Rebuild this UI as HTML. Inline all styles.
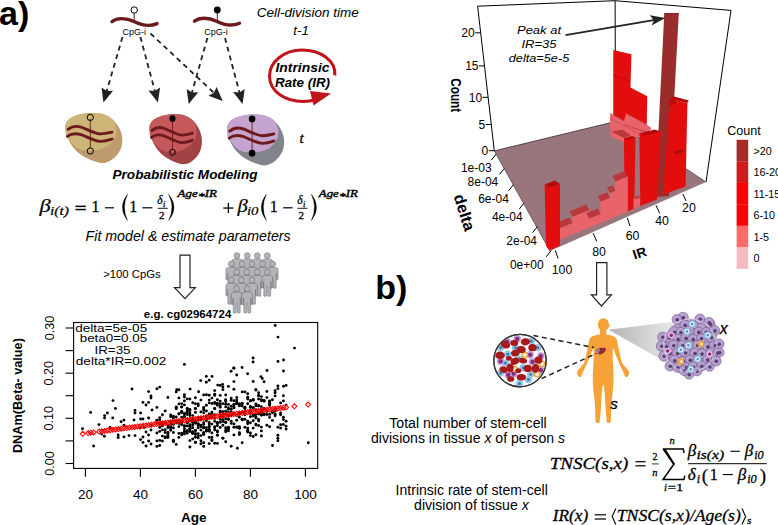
<!DOCTYPE html>
<html><head><meta charset="utf-8"><style>
html,body{margin:0;padding:0;background:#fff;width:778px;height:525px;overflow:hidden;}
svg{display:block;}

</style></head><body>
<svg width="778" height="525" viewBox="0 0 778 525">
<rect width="778" height="525" fill="#fff"/>
<text x="-1" y="25" font-size="34" font-family="Liberation Sans, sans-serif" font-weight="bold" text-anchor="start" fill="#000" >a)</text>
<path d="M112,21.6 C117,17.6 126,17.6 134,21.6 S150,26.6 157,23.6" fill="none" stroke="#6d1a1e" stroke-width="3.4" stroke-linecap="round"/>
<line x1="134.2" y1="13" x2="134.2" y2="21.5" stroke="#6d1a1e" stroke-width="1"/>
<circle cx="134.2" cy="10" r="3.2" fill="#fff" stroke="#000" stroke-width="1"/>
<path d="M194.5,21.2 C199.5,17.2 208.5,17.2 216.5,21.2 S232.5,26.2 239.5,23.2" fill="none" stroke="#6d1a1e" stroke-width="3.4" stroke-linecap="round"/>
<line x1="217.3" y1="13" x2="217.3" y2="21.5" stroke="#6d1a1e" stroke-width="1"/>
<circle cx="217.3" cy="10" r="3.4" fill="#000"/>
<text x="122.5" y="34.6" font-size="8.8" font-family="Liberation Sans, sans-serif" text-anchor="start" fill="#000" textLength="23.5" lengthAdjust="spacingAndGlyphs" >CpG-i</text>
<text x="204.2" y="34.6" font-size="8.8" font-family="Liberation Sans, sans-serif" text-anchor="start" fill="#000" textLength="23.5" lengthAdjust="spacingAndGlyphs" >CpG-i</text>
<line x1="122.5" y1="37" x2="106.5" y2="91.9" stroke="#222" stroke-width="1.8" stroke-dasharray="5,4"/>
<path d="M103.4,102.5 L101.6,87.4 L106.8,90.9 L113.1,90.7 Z" fill="#222"/>
<line x1="140.4" y1="37" x2="155.1" y2="91.9" stroke="#222" stroke-width="1.8" stroke-dasharray="5,4"/>
<path d="M157.9,102.5 L148.5,90.5 L154.8,90.9 L160.1,87.4 Z" fill="#222"/>
<line x1="150.5" y1="33.5" x2="214.7" y2="93.5" stroke="#222" stroke-width="1.8" stroke-dasharray="5,4"/>
<path d="M222.7,101 L208.4,95.8 L213.9,92.8 L216.6,87.1 Z" fill="#222"/>
<line x1="207.4" y1="38" x2="191.7" y2="93.4" stroke="#222" stroke-width="1.8" stroke-dasharray="5,4"/>
<path d="M188.7,104 L186.7,88.9 L192.0,92.4 L198.3,92.2 Z" fill="#222"/>
<line x1="225" y1="38" x2="239.7" y2="93.4" stroke="#222" stroke-width="1.8" stroke-dasharray="5,4"/>
<path d="M242.5,104 L233.1,92.0 L239.4,92.4 L244.7,88.9 Z" fill="#222"/>
<text x="256.8" y="16.7" font-size="13" font-family="Liberation Sans, sans-serif" font-style="italic" text-anchor="start" fill="#000" textLength="102" lengthAdjust="spacingAndGlyphs" >Cell-division time</text>
<text x="293.3" y="34.7" font-size="13" font-family="Liberation Sans, sans-serif" font-style="italic" text-anchor="start" fill="#000" textLength="15.5" lengthAdjust="spacingAndGlyphs" >t-1</text>
<path d="M334.9,75.3 C336,60 320,50 302,50 C284,50 269.5,62 269.5,76 C269.5,92 286,101.5 303,101.5 C309,101.5 313,100.5 316,99.5" fill="none" stroke="#c0141c" stroke-width="3"/>
<path d="M310,91 L331,93.5 L313.5,105.5 Z" fill="#c0141c"/>
<text x="275.5" y="72.2" font-size="13.3" font-family="Liberation Sans, sans-serif" font-weight="bold" font-style="italic" text-anchor="start" fill="#000" textLength="54" lengthAdjust="spacingAndGlyphs" >Intrinsic</text>
<text x="275" y="87.1" font-size="13.3" font-family="Liberation Sans, sans-serif" font-weight="bold" font-style="italic" text-anchor="start" fill="#000" textLength="55" lengthAdjust="spacingAndGlyphs" >Rate (IR)</text>
<g transform="translate(65,113.1) scale(1.0,1.0)"><path d="M0.60,16.60 C0.40,14.50 -0.08,12.80 0.70,10.90 C1.48,9.00 2.82,6.82 5.30,5.20 C7.78,3.58 11.98,2.07 15.60,1.20 C19.22,0.33 23.18,0.00 27.00,0.00 C30.82,0.00 35.07,0.15 38.50,1.20 C41.93,2.25 44.93,3.92 47.60,6.30 C50.27,8.68 52.88,12.25 54.50,15.50 C56.12,18.75 57.12,22.37 57.30,25.80 C57.48,29.23 57.02,32.87 55.60,36.10 C54.18,39.33 51.47,42.92 48.80,45.20 C46.13,47.48 42.85,49.32 39.60,49.80 C36.35,50.28 32.92,49.25 29.30,48.10 C25.68,46.95 21.33,45.10 17.90,42.90 C14.47,40.70 11.37,38.13 8.70,34.90 C6.03,31.67 3.25,26.55 1.90,23.50 C0.55,20.45 0.80,18.70 0.60,16.60 Z" fill="#bf9a6c"/><path d="M47.60,6.30 C45.60,4.48 41.93,2.25 38.50,1.20 C35.07,0.15 30.82,0.00 27.00,0.00 C23.18,0.00 19.22,0.33 15.60,1.20 C11.98,2.07 7.78,3.58 5.30,5.20 C2.82,6.82 1.48,9.00 0.70,10.90 C-0.08,12.80 0.40,14.50 0.60,16.60 C0.80,18.70 -0.03,20.45 1.90,23.50 C3.83,26.55 8.58,32.60 12.20,34.90 C15.82,37.20 19.80,37.10 23.60,37.30 C27.40,37.50 31.57,37.07 35.00,36.10 C38.43,35.13 41.72,33.42 44.20,31.50 C46.68,29.58 48.67,26.88 49.90,24.60 C51.13,22.32 51.50,19.88 51.60,17.80 C51.70,15.72 51.17,14.02 50.50,12.10 C49.83,10.18 49.60,8.12 47.60,6.30 Z" fill="#cdb578"/><path d="M3,16.2 C7,13 11,12.5 16,14 S30,21 36,20.8 S44,19.5 47,19" fill="none" stroke="#6d1a1e" stroke-width="2.9" stroke-linecap="round"/><path d="M2.4,23.2 C6,20.5 11,20 16,21.5 S30,28.5 36,28.3 S44,27 47,25.9" fill="none" stroke="#6d1a1e" stroke-width="2.9" stroke-linecap="round"/><line x1="25.3" y1="6" x2="25.3" y2="35" stroke="#6d1a1e" stroke-width="0.9"/><circle cx="25.3" cy="4.3" r="3.1" fill="none" stroke="#000" stroke-width="1"/><circle cx="25.3" cy="37.9" r="3.1" fill="none" stroke="#000" stroke-width="1"/></g>
<g transform="translate(149.2,114.3) scale(0.92,1.0)"><path d="M0.60,16.60 C0.40,14.50 -0.08,12.80 0.70,10.90 C1.48,9.00 2.82,6.82 5.30,5.20 C7.78,3.58 11.98,2.07 15.60,1.20 C19.22,0.33 23.18,0.00 27.00,0.00 C30.82,0.00 35.07,0.15 38.50,1.20 C41.93,2.25 44.93,3.92 47.60,6.30 C50.27,8.68 52.88,12.25 54.50,15.50 C56.12,18.75 57.12,22.37 57.30,25.80 C57.48,29.23 57.02,32.87 55.60,36.10 C54.18,39.33 51.47,42.92 48.80,45.20 C46.13,47.48 42.85,49.32 39.60,49.80 C36.35,50.28 32.92,49.25 29.30,48.10 C25.68,46.95 21.33,45.10 17.90,42.90 C14.47,40.70 11.37,38.13 8.70,34.90 C6.03,31.67 3.25,26.55 1.90,23.50 C0.55,20.45 0.80,18.70 0.60,16.60 Z" fill="#a14344"/><path d="M47.60,6.30 C45.60,4.48 41.93,2.25 38.50,1.20 C35.07,0.15 30.82,0.00 27.00,0.00 C23.18,0.00 19.22,0.33 15.60,1.20 C11.98,2.07 7.78,3.58 5.30,5.20 C2.82,6.82 1.48,9.00 0.70,10.90 C-0.08,12.80 0.40,14.50 0.60,16.60 C0.80,18.70 -0.03,20.45 1.90,23.50 C3.83,26.55 8.58,32.60 12.20,34.90 C15.82,37.20 19.80,37.10 23.60,37.30 C27.40,37.50 31.57,37.07 35.00,36.10 C38.43,35.13 41.72,33.42 44.20,31.50 C46.68,29.58 48.67,26.88 49.90,24.60 C51.13,22.32 51.50,19.88 51.60,17.80 C51.70,15.72 51.17,14.02 50.50,12.10 C49.83,10.18 49.60,8.12 47.60,6.30 Z" fill="#c4585a"/><path d="M3,16.2 C7,13 11,12.5 16,14 S30,21 36,20.8 S44,19.5 47,19" fill="none" stroke="#6d1a1e" stroke-width="2.9" stroke-linecap="round"/><path d="M2.4,23.2 C6,20.5 11,20 16,21.5 S30,28.5 36,28.3 S44,27 47,25.9" fill="none" stroke="#6d1a1e" stroke-width="2.9" stroke-linecap="round"/><line x1="25.3" y1="6" x2="25.3" y2="35" stroke="#6d1a1e" stroke-width="0.9"/><circle cx="25.3" cy="4.3" r="3.3" fill="#000"/><circle cx="25.3" cy="37.9" r="3.1" fill="none" stroke="#000" stroke-width="1"/></g>
<g transform="translate(226.8,114.5) scale(1.0,1.02)"><path d="M0.60,16.60 C0.40,14.50 -0.08,12.80 0.70,10.90 C1.48,9.00 2.82,6.82 5.30,5.20 C7.78,3.58 11.98,2.07 15.60,1.20 C19.22,0.33 23.18,0.00 27.00,0.00 C30.82,0.00 35.07,0.15 38.50,1.20 C41.93,2.25 44.93,3.92 47.60,6.30 C50.27,8.68 52.88,12.25 54.50,15.50 C56.12,18.75 57.12,22.37 57.30,25.80 C57.48,29.23 57.02,32.87 55.60,36.10 C54.18,39.33 51.47,42.92 48.80,45.20 C46.13,47.48 42.85,49.32 39.60,49.80 C36.35,50.28 32.92,49.25 29.30,48.10 C25.68,46.95 21.33,45.10 17.90,42.90 C14.47,40.70 11.37,38.13 8.70,34.90 C6.03,31.67 3.25,26.55 1.90,23.50 C0.55,20.45 0.80,18.70 0.60,16.60 Z" fill="#82848c"/><path d="M47.60,6.30 C45.60,4.48 41.93,2.25 38.50,1.20 C35.07,0.15 30.82,0.00 27.00,0.00 C23.18,0.00 19.22,0.33 15.60,1.20 C11.98,2.07 7.78,3.58 5.30,5.20 C2.82,6.82 1.48,9.00 0.70,10.90 C-0.08,12.80 0.40,14.50 0.60,16.60 C0.80,18.70 -0.03,20.45 1.90,23.50 C3.83,26.55 8.58,32.60 12.20,34.90 C15.82,37.20 19.80,37.10 23.60,37.30 C27.40,37.50 31.57,37.07 35.00,36.10 C38.43,35.13 41.72,33.42 44.20,31.50 C46.68,29.58 48.67,26.88 49.90,24.60 C51.13,22.32 51.50,19.88 51.60,17.80 C51.70,15.72 51.17,14.02 50.50,12.10 C49.83,10.18 49.60,8.12 47.60,6.30 Z" fill="#c4a4ce"/><path d="M3,16.2 C7,13 11,12.5 16,14 S30,21 36,20.8 S44,19.5 47,19" fill="none" stroke="#6d1a1e" stroke-width="2.9" stroke-linecap="round"/><path d="M2.4,23.2 C6,20.5 11,20 16,21.5 S30,28.5 36,28.3 S44,27 47,25.9" fill="none" stroke="#6d1a1e" stroke-width="2.9" stroke-linecap="round"/><line x1="25.3" y1="6" x2="25.3" y2="35" stroke="#6d1a1e" stroke-width="0.9"/><circle cx="25.3" cy="4.3" r="3.3" fill="#000"/><circle cx="25.3" cy="37.9" r="3.3" fill="#000"/></g>
<text x="299.5" y="143" font-size="15" font-family="Liberation Serif, serif" font-style="italic" stroke="#000" stroke-width="0.28" text-anchor="start" fill="#000" >t</text>
<text x="112.5" y="178.5" font-size="13.3" font-family="Liberation Sans, sans-serif" font-weight="bold" font-style="italic" text-anchor="start" fill="#000" textLength="145" lengthAdjust="spacingAndGlyphs" >Probabilistic Modeling</text>
<text x="39.6" y="211.5" font-size="19" font-family="Liberation Serif, serif" font-style="italic" stroke="#000" stroke-width="0.2" text-anchor="start" fill="#000" textLength="11.2" lengthAdjust="spacingAndGlyphs" >β</text>
<text x="50" y="215.1" font-size="11.5" font-family="Liberation Serif, serif" font-style="italic" stroke="#000" stroke-width="0.2" text-anchor="start" fill="#000" textLength="19" lengthAdjust="spacingAndGlyphs">i(t)</text>
<rect x="75.5" y="205.6" width="10.3" height="1.5" fill="#000"/><rect x="75.5" y="208.8" width="10.3" height="1.5" fill="#000"/>
<text x="91.5" y="211.5" font-size="16" font-family="Liberation Serif, serif" stroke="#000" stroke-width="0.28" text-anchor="start" fill="#000" >1</text>
<line x1="105" y1="207.8" x2="114" y2="207.8" stroke="#000" stroke-width="1.2"/>
<path d="M127.5,194.3 Q117.30,207.40 127.5,220.5 Q121.30,207.40 127.5,194.3 Z" fill="#000" stroke="#000" stroke-width="0.35"/>
<text x="129.2" y="211.5" font-size="16" font-family="Liberation Serif, serif" stroke="#000" stroke-width="0.28" text-anchor="start" fill="#000" >1</text>
<line x1="142.4" y1="207.8" x2="152.4" y2="207.8" stroke="#000" stroke-width="1.2"/>
<text x="157.3" y="204.3" font-size="11.5" font-family="Liberation Serif, serif" font-style="italic" stroke="#000" stroke-width="0.28" text-anchor="start" fill="#000" >δ</text>
<text x="163" y="206.6" font-size="8.5" font-family="Liberation Serif, serif" font-style="italic" stroke="#000" stroke-width="0.28" text-anchor="start" fill="#000" >i</text>
<line x1="157.8" y1="208.3" x2="167.8" y2="208.3" stroke="#000" stroke-width="0.9"/>
<text x="159" y="219.2" font-size="11" font-family="Liberation Serif, serif" stroke="#000" stroke-width="0.28" text-anchor="start" fill="#000" >2</text>
<path d="M168.6,194.3 Q179.40,207.40 168.6,220.5 Q175.40,207.40 168.6,194.3 Z" fill="#000" stroke="#000" stroke-width="0.35"/>
<text x="177.5" y="197.3" font-size="10.2" font-family="Liberation Serif, serif" font-style="italic" stroke="#000" stroke-width="0.4" textLength="39.5" lengthAdjust="spacingAndGlyphs">Age<tspan dy="3" font-size="11">*</tspan><tspan dy="-3">IR</tspan></text>
<rect x="223.3" y="207.4" width="10.1" height="1.3" fill="#000"/><rect x="227.75" y="202.9" width="1.3" height="10.2" fill="#000"/>
<text x="237.6" y="211.5" font-size="19" font-family="Liberation Serif, serif" font-style="italic" stroke="#000" stroke-width="0.2" text-anchor="start" fill="#000" textLength="10.3" lengthAdjust="spacingAndGlyphs" >β</text>
<text x="247" y="215.1" font-size="11.5" font-family="Liberation Serif, serif" font-style="italic" stroke="#000" stroke-width="0.2" text-anchor="start" fill="#000" textLength="11.5" lengthAdjust="spacingAndGlyphs">i0</text>
<path d="M266.4,194.3 Q256.20,207.40 266.4,220.5 Q260.20,207.40 266.4,194.3 Z" fill="#000" stroke="#000" stroke-width="0.35"/>
<text x="269.8" y="211.5" font-size="16" font-family="Liberation Serif, serif" stroke="#000" stroke-width="0.28" text-anchor="start" fill="#000" >1</text>
<line x1="283.1" y1="207.8" x2="292.6" y2="207.8" stroke="#000" stroke-width="1.2"/>
<text x="297.3" y="204.3" font-size="11.5" font-family="Liberation Serif, serif" font-style="italic" stroke="#000" stroke-width="0.28" text-anchor="start" fill="#000" >δ</text>
<text x="302.9" y="206.6" font-size="8.5" font-family="Liberation Serif, serif" font-style="italic" stroke="#000" stroke-width="0.28" text-anchor="start" fill="#000" >i</text>
<line x1="297.4" y1="208.3" x2="307.4" y2="208.3" stroke="#000" stroke-width="0.9"/>
<text x="298.6" y="219.2" font-size="11" font-family="Liberation Serif, serif" stroke="#000" stroke-width="0.28" text-anchor="start" fill="#000" >2</text>
<path d="M311.4,194.3 Q321.60,207.40 311.4,220.5 Q317.60,207.40 311.4,194.3 Z" fill="#000" stroke="#000" stroke-width="0.35"/>
<text x="318.8" y="197.3" font-size="10.2" font-family="Liberation Serif, serif" font-style="italic" stroke="#000" stroke-width="0.4" textLength="39" lengthAdjust="spacingAndGlyphs">Age<tspan dy="3" font-size="11">*</tspan><tspan dy="-3">IR</tspan></text>
<text x="85.6" y="241.1" font-size="14.1" font-family="Liberation Sans, sans-serif" font-style="italic" text-anchor="start" fill="#000" textLength="205" lengthAdjust="spacingAndGlyphs" >Fit model &amp; estimate parameters</text>
<text x="103.2" y="277.5" font-size="11" font-family="Liberation Sans, sans-serif" text-anchor="start" fill="#000" textLength="57.5" lengthAdjust="spacingAndGlyphs" >&gt;100 CpGs</text>
<path d="M180,255.2 L190,255.2 L190,287.6 L195.3,287.6 L185,298.6 L174.5,287.6 L180,287.6 Z" fill="#fff" stroke="#222" stroke-width="1.2" stroke-linejoin="miter"/>
<text x="143.8" y="317.6" font-size="10.8" font-family="Liberation Sans, sans-serif" font-weight="bold" text-anchor="start" fill="#000" textLength="87.5" lengthAdjust="spacingAndGlyphs" >e.g. cg02964724</text>
<g transform="translate(237,255.6)"><path d="M-1.8,3.2 L-4,3.8 Q-5.4,4.3 -5.4,6 L-5.4,15.5 Q-4.6,16.3 -3.8,15.5 L-3.8,9.5 L-3.5,9.5 L-3.4,24 Q-2,24.7 -0.6,24 L-0.4,14.5 L0.4,14.5 L0.6,24 Q2,24.7 3.4,24 L3.5,9.5 L3.8,9.5 L3.8,15.5 Q4.6,16.3 5.4,15.5 L5.4,6 Q5.4,4.3 4,3.8 L1.8,3.2 Z" fill="#b4b4b8" stroke="#6e6e72" stroke-width="0.55"/><circle cx="0" cy="0" r="2.9" fill="#b4b4b8" stroke="#6e6e72" stroke-width="0.55"/></g>
<g transform="translate(247.3,255.6)"><path d="M-1.8,3.2 L-4,3.8 Q-5.4,4.3 -5.4,6 L-5.4,15.5 Q-4.6,16.3 -3.8,15.5 L-3.8,9.5 L-3.5,9.5 L-3.4,24 Q-2,24.7 -0.6,24 L-0.4,14.5 L0.4,14.5 L0.6,24 Q2,24.7 3.4,24 L3.5,9.5 L3.8,9.5 L3.8,15.5 Q4.6,16.3 5.4,15.5 L5.4,6 Q5.4,4.3 4,3.8 L1.8,3.2 Z" fill="#b4b4b8" stroke="#6e6e72" stroke-width="0.55"/><circle cx="0" cy="0" r="2.9" fill="#b4b4b8" stroke="#6e6e72" stroke-width="0.55"/></g>
<g transform="translate(257.3,255.6)"><path d="M-1.8,3.2 L-4,3.8 Q-5.4,4.3 -5.4,6 L-5.4,15.5 Q-4.6,16.3 -3.8,15.5 L-3.8,9.5 L-3.5,9.5 L-3.4,24 Q-2,24.7 -0.6,24 L-0.4,14.5 L0.4,14.5 L0.6,24 Q2,24.7 3.4,24 L3.5,9.5 L3.8,9.5 L3.8,15.5 Q4.6,16.3 5.4,15.5 L5.4,6 Q5.4,4.3 4,3.8 L1.8,3.2 Z" fill="#b4b4b8" stroke="#6e6e72" stroke-width="0.55"/><circle cx="0" cy="0" r="2.9" fill="#b4b4b8" stroke="#6e6e72" stroke-width="0.55"/></g>
<g transform="translate(267.3,255.6)"><path d="M-1.8,3.2 L-4,3.8 Q-5.4,4.3 -5.4,6 L-5.4,15.5 Q-4.6,16.3 -3.8,15.5 L-3.8,9.5 L-3.5,9.5 L-3.4,24 Q-2,24.7 -0.6,24 L-0.4,14.5 L0.4,14.5 L0.6,24 Q2,24.7 3.4,24 L3.5,9.5 L3.8,9.5 L3.8,15.5 Q4.6,16.3 5.4,15.5 L5.4,6 Q5.4,4.3 4,3.8 L1.8,3.2 Z" fill="#b4b4b8" stroke="#6e6e72" stroke-width="0.55"/><circle cx="0" cy="0" r="2.9" fill="#b4b4b8" stroke="#6e6e72" stroke-width="0.55"/></g>
<g transform="translate(231.3,264)"><path d="M-1.8,3.2 L-4,3.8 Q-5.4,4.3 -5.4,6 L-5.4,15.5 Q-4.6,16.3 -3.8,15.5 L-3.8,9.5 L-3.5,9.5 L-3.4,24 Q-2,24.7 -0.6,24 L-0.4,14.5 L0.4,14.5 L0.6,24 Q2,24.7 3.4,24 L3.5,9.5 L3.8,9.5 L3.8,15.5 Q4.6,16.3 5.4,15.5 L5.4,6 Q5.4,4.3 4,3.8 L1.8,3.2 Z" fill="#b4b4b8" stroke="#6e6e72" stroke-width="0.55"/><circle cx="0" cy="0" r="2.9" fill="#b4b4b8" stroke="#6e6e72" stroke-width="0.55"/></g>
<g transform="translate(242,264)"><path d="M-1.8,3.2 L-4,3.8 Q-5.4,4.3 -5.4,6 L-5.4,15.5 Q-4.6,16.3 -3.8,15.5 L-3.8,9.5 L-3.5,9.5 L-3.4,24 Q-2,24.7 -0.6,24 L-0.4,14.5 L0.4,14.5 L0.6,24 Q2,24.7 3.4,24 L3.5,9.5 L3.8,9.5 L3.8,15.5 Q4.6,16.3 5.4,15.5 L5.4,6 Q5.4,4.3 4,3.8 L1.8,3.2 Z" fill="#b4b4b8" stroke="#6e6e72" stroke-width="0.55"/><circle cx="0" cy="0" r="2.9" fill="#b4b4b8" stroke="#6e6e72" stroke-width="0.55"/></g>
<g transform="translate(252,264)"><path d="M-1.8,3.2 L-4,3.8 Q-5.4,4.3 -5.4,6 L-5.4,15.5 Q-4.6,16.3 -3.8,15.5 L-3.8,9.5 L-3.5,9.5 L-3.4,24 Q-2,24.7 -0.6,24 L-0.4,14.5 L0.4,14.5 L0.6,24 Q2,24.7 3.4,24 L3.5,9.5 L3.8,9.5 L3.8,15.5 Q4.6,16.3 5.4,15.5 L5.4,6 Q5.4,4.3 4,3.8 L1.8,3.2 Z" fill="#b4b4b8" stroke="#6e6e72" stroke-width="0.55"/><circle cx="0" cy="0" r="2.9" fill="#b4b4b8" stroke="#6e6e72" stroke-width="0.55"/></g>
<g transform="translate(262.7,264)"><path d="M-1.8,3.2 L-4,3.8 Q-5.4,4.3 -5.4,6 L-5.4,15.5 Q-4.6,16.3 -3.8,15.5 L-3.8,9.5 L-3.5,9.5 L-3.4,24 Q-2,24.7 -0.6,24 L-0.4,14.5 L0.4,14.5 L0.6,24 Q2,24.7 3.4,24 L3.5,9.5 L3.8,9.5 L3.8,15.5 Q4.6,16.3 5.4,15.5 L5.4,6 Q5.4,4.3 4,3.8 L1.8,3.2 Z" fill="#b4b4b8" stroke="#6e6e72" stroke-width="0.55"/><circle cx="0" cy="0" r="2.9" fill="#b4b4b8" stroke="#6e6e72" stroke-width="0.55"/></g>
<g transform="translate(272.7,264)"><path d="M-1.8,3.2 L-4,3.8 Q-5.4,4.3 -5.4,6 L-5.4,15.5 Q-4.6,16.3 -3.8,15.5 L-3.8,9.5 L-3.5,9.5 L-3.4,24 Q-2,24.7 -0.6,24 L-0.4,14.5 L0.4,14.5 L0.6,24 Q2,24.7 3.4,24 L3.5,9.5 L3.8,9.5 L3.8,15.5 Q4.6,16.3 5.4,15.5 L5.4,6 Q5.4,4.3 4,3.8 L1.8,3.2 Z" fill="#b4b4b8" stroke="#6e6e72" stroke-width="0.55"/><circle cx="0" cy="0" r="2.9" fill="#b4b4b8" stroke="#6e6e72" stroke-width="0.55"/></g>
<g transform="translate(236.7,272)"><path d="M-1.8,3.2 L-4,3.8 Q-5.4,4.3 -5.4,6 L-5.4,15.5 Q-4.6,16.3 -3.8,15.5 L-3.8,9.5 L-3.5,9.5 L-3.4,24 Q-2,24.7 -0.6,24 L-0.4,14.5 L0.4,14.5 L0.6,24 Q2,24.7 3.4,24 L3.5,9.5 L3.8,9.5 L3.8,15.5 Q4.6,16.3 5.4,15.5 L5.4,6 Q5.4,4.3 4,3.8 L1.8,3.2 Z" fill="#b4b4b8" stroke="#6e6e72" stroke-width="0.55"/><circle cx="0" cy="0" r="2.9" fill="#b4b4b8" stroke="#6e6e72" stroke-width="0.55"/></g>
<g transform="translate(246.7,272)"><path d="M-1.8,3.2 L-4,3.8 Q-5.4,4.3 -5.4,6 L-5.4,15.5 Q-4.6,16.3 -3.8,15.5 L-3.8,9.5 L-3.5,9.5 L-3.4,24 Q-2,24.7 -0.6,24 L-0.4,14.5 L0.4,14.5 L0.6,24 Q2,24.7 3.4,24 L3.5,9.5 L3.8,9.5 L3.8,15.5 Q4.6,16.3 5.4,15.5 L5.4,6 Q5.4,4.3 4,3.8 L1.8,3.2 Z" fill="#b4b4b8" stroke="#6e6e72" stroke-width="0.55"/><circle cx="0" cy="0" r="2.9" fill="#b4b4b8" stroke="#6e6e72" stroke-width="0.55"/></g>
<g transform="translate(257.3,272)"><path d="M-1.8,3.2 L-4,3.8 Q-5.4,4.3 -5.4,6 L-5.4,15.5 Q-4.6,16.3 -3.8,15.5 L-3.8,9.5 L-3.5,9.5 L-3.4,24 Q-2,24.7 -0.6,24 L-0.4,14.5 L0.4,14.5 L0.6,24 Q2,24.7 3.4,24 L3.5,9.5 L3.8,9.5 L3.8,15.5 Q4.6,16.3 5.4,15.5 L5.4,6 Q5.4,4.3 4,3.8 L1.8,3.2 Z" fill="#b4b4b8" stroke="#6e6e72" stroke-width="0.55"/><circle cx="0" cy="0" r="2.9" fill="#b4b4b8" stroke="#6e6e72" stroke-width="0.55"/></g>
<g transform="translate(267.3,272)"><path d="M-1.8,3.2 L-4,3.8 Q-5.4,4.3 -5.4,6 L-5.4,15.5 Q-4.6,16.3 -3.8,15.5 L-3.8,9.5 L-3.5,9.5 L-3.4,24 Q-2,24.7 -0.6,24 L-0.4,14.5 L0.4,14.5 L0.6,24 Q2,24.7 3.4,24 L3.5,9.5 L3.8,9.5 L3.8,15.5 Q4.6,16.3 5.4,15.5 L5.4,6 Q5.4,4.3 4,3.8 L1.8,3.2 Z" fill="#b4b4b8" stroke="#6e6e72" stroke-width="0.55"/><circle cx="0" cy="0" r="2.9" fill="#b4b4b8" stroke="#6e6e72" stroke-width="0.55"/></g>
<g transform="translate(231.3,280)"><path d="M-1.8,3.2 L-4,3.8 Q-5.4,4.3 -5.4,6 L-5.4,15.5 Q-4.6,16.3 -3.8,15.5 L-3.8,9.5 L-3.5,9.5 L-3.4,24 Q-2,24.7 -0.6,24 L-0.4,14.5 L0.4,14.5 L0.6,24 Q2,24.7 3.4,24 L3.5,9.5 L3.8,9.5 L3.8,15.5 Q4.6,16.3 5.4,15.5 L5.4,6 Q5.4,4.3 4,3.8 L1.8,3.2 Z" fill="#b4b4b8" stroke="#6e6e72" stroke-width="0.55"/><circle cx="0" cy="0" r="2.9" fill="#b4b4b8" stroke="#6e6e72" stroke-width="0.55"/></g>
<g transform="translate(241.3,280)"><path d="M-1.8,3.2 L-4,3.8 Q-5.4,4.3 -5.4,6 L-5.4,15.5 Q-4.6,16.3 -3.8,15.5 L-3.8,9.5 L-3.5,9.5 L-3.4,24 Q-2,24.7 -0.6,24 L-0.4,14.5 L0.4,14.5 L0.6,24 Q2,24.7 3.4,24 L3.5,9.5 L3.8,9.5 L3.8,15.5 Q4.6,16.3 5.4,15.5 L5.4,6 Q5.4,4.3 4,3.8 L1.8,3.2 Z" fill="#b4b4b8" stroke="#6e6e72" stroke-width="0.55"/><circle cx="0" cy="0" r="2.9" fill="#b4b4b8" stroke="#6e6e72" stroke-width="0.55"/></g>
<g transform="translate(252,280)"><path d="M-1.8,3.2 L-4,3.8 Q-5.4,4.3 -5.4,6 L-5.4,15.5 Q-4.6,16.3 -3.8,15.5 L-3.8,9.5 L-3.5,9.5 L-3.4,24 Q-2,24.7 -0.6,24 L-0.4,14.5 L0.4,14.5 L0.6,24 Q2,24.7 3.4,24 L3.5,9.5 L3.8,9.5 L3.8,15.5 Q4.6,16.3 5.4,15.5 L5.4,6 Q5.4,4.3 4,3.8 L1.8,3.2 Z" fill="#b4b4b8" stroke="#6e6e72" stroke-width="0.55"/><circle cx="0" cy="0" r="2.9" fill="#b4b4b8" stroke="#6e6e72" stroke-width="0.55"/></g>
<g transform="translate(236.7,288.7)"><path d="M-1.8,3.2 L-4,3.8 Q-5.4,4.3 -5.4,6 L-5.4,15.5 Q-4.6,16.3 -3.8,15.5 L-3.8,9.5 L-3.5,9.5 L-3.4,24 Q-2,24.7 -0.6,24 L-0.4,14.5 L0.4,14.5 L0.6,24 Q2,24.7 3.4,24 L3.5,9.5 L3.8,9.5 L3.8,15.5 Q4.6,16.3 5.4,15.5 L5.4,6 Q5.4,4.3 4,3.8 L1.8,3.2 Z" fill="#b4b4b8" stroke="#6e6e72" stroke-width="0.55"/><circle cx="0" cy="0" r="2.9" fill="#b4b4b8" stroke="#6e6e72" stroke-width="0.55"/></g>
<g transform="translate(247.3,288.7)"><path d="M-1.8,3.2 L-4,3.8 Q-5.4,4.3 -5.4,6 L-5.4,15.5 Q-4.6,16.3 -3.8,15.5 L-3.8,9.5 L-3.5,9.5 L-3.4,24 Q-2,24.7 -0.6,24 L-0.4,14.5 L0.4,14.5 L0.6,24 Q2,24.7 3.4,24 L3.5,9.5 L3.8,9.5 L3.8,15.5 Q4.6,16.3 5.4,15.5 L5.4,6 Q5.4,4.3 4,3.8 L1.8,3.2 Z" fill="#b4b4b8" stroke="#6e6e72" stroke-width="0.55"/><circle cx="0" cy="0" r="2.9" fill="#b4b4b8" stroke="#6e6e72" stroke-width="0.55"/></g>
<rect x="73.6" y="322.5" width="244.1" height="145.89999999999998" fill="none" stroke="#000" stroke-width="1.1"/>
<line x1="65.6" y1="463.5" x2="73.6" y2="463.5" stroke="#000" stroke-width="1.1"/>
<line x1="65.6" y1="440.9" x2="73.6" y2="440.9" stroke="#000" stroke-width="1.1"/>
<line x1="65.6" y1="418.3" x2="73.6" y2="418.3" stroke="#000" stroke-width="1.1"/>
<line x1="65.6" y1="395.7" x2="73.6" y2="395.7" stroke="#000" stroke-width="1.1"/>
<line x1="65.6" y1="373.2" x2="73.6" y2="373.2" stroke="#000" stroke-width="1.1"/>
<line x1="65.6" y1="350.6" x2="73.6" y2="350.6" stroke="#000" stroke-width="1.1"/>
<line x1="65.6" y1="328.0" x2="73.6" y2="328.0" stroke="#000" stroke-width="1.1"/>
<text x="53.5" y="463.5" font-size="12.6" font-family="Liberation Sans, sans-serif" text-anchor="middle" fill="#000" transform="rotate(-90 53.5 463.5)">0.00</text>
<text x="53.5" y="418.3" font-size="12.6" font-family="Liberation Sans, sans-serif" text-anchor="middle" fill="#000" transform="rotate(-90 53.5 418.3)">0.10</text>
<text x="53.5" y="373.2" font-size="12.6" font-family="Liberation Sans, sans-serif" text-anchor="middle" fill="#000" transform="rotate(-90 53.5 373.2)">0.20</text>
<text x="53.5" y="328.0" font-size="12.6" font-family="Liberation Sans, sans-serif" text-anchor="middle" fill="#000" transform="rotate(-90 53.5 328.0)">0.30</text>
<line x1="85.4" y1="468.4" x2="85.4" y2="476.8" stroke="#000" stroke-width="1.1"/>
<text x="85.4" y="498.6" font-size="13.5" font-family="Liberation Sans, sans-serif" text-anchor="middle" fill="#000" >20</text>
<line x1="140.4" y1="468.4" x2="140.4" y2="476.8" stroke="#000" stroke-width="1.1"/>
<text x="140.4" y="498.6" font-size="13.5" font-family="Liberation Sans, sans-serif" text-anchor="middle" fill="#000" >40</text>
<line x1="195.4" y1="468.4" x2="195.4" y2="476.8" stroke="#000" stroke-width="1.1"/>
<text x="195.4" y="498.6" font-size="13.5" font-family="Liberation Sans, sans-serif" text-anchor="middle" fill="#000" >60</text>
<line x1="250.4" y1="468.4" x2="250.4" y2="476.8" stroke="#000" stroke-width="1.1"/>
<text x="250.4" y="498.6" font-size="13.5" font-family="Liberation Sans, sans-serif" text-anchor="middle" fill="#000" >80</text>
<line x1="305.4" y1="468.4" x2="305.4" y2="476.8" stroke="#000" stroke-width="1.1"/>
<text x="305.4" y="498.6" font-size="13.5" font-family="Liberation Sans, sans-serif" text-anchor="middle" fill="#000" >100</text>
<text x="193.8" y="521.7" font-size="13.6" font-family="Liberation Sans, sans-serif" font-weight="bold" text-anchor="middle" fill="#000" >Age</text>
<text x="22.2" y="395.6" font-size="12.7" font-family="Liberation Sans, sans-serif" font-weight="bold" text-anchor="middle" fill="#000" transform="rotate(-90 22.2 395.6)">DNAm(Beta- value)</text>
<g fill="#000"><circle cx="156.9" cy="407.4" r="1.45"/><circle cx="156.9" cy="446.4" r="1.45"/><circle cx="156.9" cy="422.8" r="1.45"/><circle cx="156.9" cy="440.9" r="1.45"/><circle cx="156.9" cy="420.2" r="1.45"/><circle cx="156.9" cy="433.0" r="1.45"/><circle cx="156.9" cy="420.5" r="1.45"/><circle cx="159.7" cy="440.4" r="1.45"/><circle cx="159.7" cy="423.8" r="1.45"/><circle cx="159.7" cy="431.4" r="1.45"/><circle cx="159.7" cy="427.4" r="1.45"/><circle cx="159.7" cy="419.7" r="1.45"/><circle cx="159.7" cy="417.6" r="1.45"/><circle cx="159.7" cy="445.5" r="1.45"/><circle cx="159.7" cy="387.1" r="1.45"/><circle cx="162.4" cy="414.7" r="1.45"/><circle cx="162.4" cy="436.1" r="1.45"/><circle cx="162.4" cy="441.0" r="1.45"/><circle cx="162.4" cy="423.7" r="1.45"/><circle cx="162.4" cy="423.0" r="1.45"/><circle cx="162.4" cy="429.9" r="1.45"/><circle cx="162.4" cy="425.9" r="1.45"/><circle cx="165.2" cy="410.9" r="1.45"/><circle cx="165.2" cy="437.7" r="1.45"/><circle cx="165.2" cy="422.5" r="1.45"/><circle cx="165.2" cy="437.0" r="1.45"/><circle cx="165.2" cy="432.5" r="1.45"/><circle cx="165.2" cy="429.7" r="1.45"/><circle cx="167.9" cy="434.8" r="1.45"/><circle cx="167.9" cy="437.1" r="1.45"/><circle cx="167.9" cy="432.4" r="1.45"/><circle cx="167.9" cy="437.6" r="1.45"/><circle cx="167.9" cy="432.9" r="1.45"/><circle cx="167.9" cy="397.5" r="1.45"/><circle cx="167.9" cy="425.1" r="1.45"/><circle cx="167.9" cy="427.5" r="1.45"/><circle cx="167.9" cy="436.1" r="1.45"/><circle cx="170.7" cy="427.4" r="1.45"/><circle cx="170.7" cy="424.3" r="1.45"/><circle cx="170.7" cy="430.2" r="1.45"/><circle cx="170.7" cy="426.6" r="1.45"/><circle cx="170.7" cy="414.9" r="1.45"/><circle cx="170.7" cy="416.7" r="1.45"/><circle cx="170.7" cy="421.6" r="1.45"/><circle cx="170.7" cy="422.9" r="1.45"/><circle cx="170.7" cy="427.9" r="1.45"/><circle cx="173.4" cy="432.5" r="1.45"/><circle cx="173.4" cy="416.3" r="1.45"/><circle cx="173.4" cy="428.0" r="1.45"/><circle cx="173.4" cy="420.4" r="1.45"/><circle cx="173.4" cy="440.3" r="1.45"/><circle cx="173.4" cy="441.3" r="1.45"/><circle cx="173.4" cy="424.4" r="1.45"/><circle cx="173.4" cy="417.7" r="1.45"/><circle cx="173.4" cy="441.5" r="1.45"/><circle cx="176.2" cy="391.9" r="1.45"/><circle cx="176.2" cy="408.7" r="1.45"/><circle cx="176.2" cy="406.9" r="1.45"/><circle cx="176.2" cy="407.7" r="1.45"/><circle cx="176.2" cy="422.2" r="1.45"/><circle cx="176.2" cy="444.4" r="1.45"/><circle cx="176.2" cy="421.5" r="1.45"/><circle cx="176.2" cy="417.0" r="1.45"/><circle cx="176.2" cy="407.8" r="1.45"/><circle cx="178.9" cy="421.1" r="1.45"/><circle cx="178.9" cy="437.4" r="1.45"/><circle cx="178.9" cy="433.4" r="1.45"/><circle cx="178.9" cy="413.6" r="1.45"/><circle cx="178.9" cy="422.5" r="1.45"/><circle cx="178.9" cy="422.9" r="1.45"/><circle cx="178.9" cy="397.9" r="1.45"/><circle cx="178.9" cy="414.0" r="1.45"/><circle cx="178.9" cy="421.8" r="1.45"/><circle cx="178.9" cy="403.9" r="1.45"/><circle cx="178.9" cy="423.4" r="1.45"/><circle cx="178.9" cy="426.6" r="1.45"/><circle cx="181.7" cy="424.5" r="1.45"/><circle cx="181.7" cy="420.1" r="1.45"/><circle cx="181.7" cy="412.0" r="1.45"/><circle cx="181.7" cy="420.8" r="1.45"/><circle cx="181.7" cy="434.9" r="1.45"/><circle cx="181.7" cy="424.1" r="1.45"/><circle cx="181.7" cy="417.3" r="1.45"/><circle cx="181.7" cy="406.9" r="1.45"/><circle cx="181.7" cy="412.6" r="1.45"/><circle cx="181.7" cy="421.7" r="1.45"/><circle cx="181.7" cy="403.6" r="1.45"/><circle cx="181.7" cy="433.2" r="1.45"/><circle cx="181.7" cy="411.5" r="1.45"/><circle cx="181.7" cy="407.0" r="1.45"/><circle cx="184.4" cy="426.3" r="1.45"/><circle cx="184.4" cy="416.3" r="1.45"/><circle cx="184.4" cy="428.8" r="1.45"/><circle cx="184.4" cy="404.9" r="1.45"/><circle cx="184.4" cy="397.0" r="1.45"/><circle cx="184.4" cy="417.8" r="1.45"/><circle cx="184.4" cy="431.9" r="1.45"/><circle cx="184.4" cy="413.7" r="1.45"/><circle cx="184.4" cy="400.9" r="1.45"/><circle cx="184.4" cy="413.6" r="1.45"/><circle cx="184.4" cy="425.6" r="1.45"/><circle cx="184.4" cy="394.7" r="1.45"/><circle cx="184.4" cy="431.1" r="1.45"/><circle cx="184.4" cy="433.9" r="1.45"/><circle cx="187.2" cy="430.7" r="1.45"/><circle cx="187.2" cy="408.8" r="1.45"/><circle cx="187.2" cy="411.2" r="1.45"/><circle cx="187.2" cy="422.6" r="1.45"/><circle cx="187.2" cy="398.9" r="1.45"/><circle cx="187.2" cy="433.2" r="1.45"/><circle cx="187.2" cy="412.6" r="1.45"/><circle cx="187.2" cy="408.4" r="1.45"/><circle cx="187.2" cy="431.0" r="1.45"/><circle cx="187.2" cy="425.9" r="1.45"/><circle cx="187.2" cy="414.6" r="1.45"/><circle cx="187.2" cy="422.9" r="1.45"/><circle cx="189.9" cy="447.0" r="1.45"/><circle cx="189.9" cy="431.5" r="1.45"/><circle cx="189.9" cy="430.0" r="1.45"/><circle cx="189.9" cy="429.0" r="1.45"/><circle cx="189.9" cy="413.3" r="1.45"/><circle cx="189.9" cy="426.2" r="1.45"/><circle cx="189.9" cy="410.5" r="1.45"/><circle cx="189.9" cy="420.3" r="1.45"/><circle cx="189.9" cy="426.1" r="1.45"/><circle cx="189.9" cy="419.8" r="1.45"/><circle cx="189.9" cy="415.5" r="1.45"/><circle cx="189.9" cy="409.5" r="1.45"/><circle cx="189.9" cy="428.2" r="1.45"/><circle cx="189.9" cy="424.7" r="1.45"/><circle cx="189.9" cy="440.6" r="1.45"/><circle cx="189.9" cy="399.0" r="1.45"/><circle cx="192.7" cy="433.0" r="1.45"/><circle cx="192.7" cy="439.0" r="1.45"/><circle cx="192.7" cy="427.8" r="1.45"/><circle cx="192.7" cy="425.0" r="1.45"/><circle cx="192.7" cy="418.5" r="1.45"/><circle cx="192.7" cy="420.5" r="1.45"/><circle cx="192.7" cy="402.7" r="1.45"/><circle cx="192.7" cy="432.8" r="1.45"/><circle cx="192.7" cy="418.3" r="1.45"/><circle cx="192.7" cy="421.8" r="1.45"/><circle cx="192.7" cy="431.7" r="1.45"/><circle cx="192.7" cy="433.3" r="1.45"/><circle cx="192.7" cy="422.6" r="1.45"/><circle cx="192.7" cy="433.3" r="1.45"/><circle cx="192.7" cy="415.6" r="1.45"/><circle cx="195.4" cy="420.8" r="1.45"/><circle cx="195.4" cy="423.2" r="1.45"/><circle cx="195.4" cy="422.5" r="1.45"/><circle cx="195.4" cy="442.5" r="1.45"/><circle cx="195.4" cy="412.4" r="1.45"/><circle cx="195.4" cy="433.5" r="1.45"/><circle cx="195.4" cy="403.7" r="1.45"/><circle cx="195.4" cy="397.8" r="1.45"/><circle cx="195.4" cy="437.3" r="1.45"/><circle cx="195.4" cy="442.3" r="1.45"/><circle cx="195.4" cy="408.5" r="1.45"/><circle cx="195.4" cy="408.8" r="1.45"/><circle cx="195.4" cy="434.6" r="1.45"/><circle cx="195.4" cy="430.5" r="1.45"/><circle cx="195.4" cy="430.5" r="1.45"/><circle cx="198.2" cy="424.9" r="1.45"/><circle cx="198.2" cy="424.0" r="1.45"/><circle cx="198.2" cy="404.0" r="1.45"/><circle cx="198.2" cy="435.9" r="1.45"/><circle cx="198.2" cy="437.9" r="1.45"/><circle cx="198.2" cy="405.7" r="1.45"/><circle cx="198.2" cy="433.6" r="1.45"/><circle cx="198.2" cy="427.8" r="1.45"/><circle cx="198.2" cy="417.3" r="1.45"/><circle cx="198.2" cy="425.4" r="1.45"/><circle cx="198.2" cy="420.4" r="1.45"/><circle cx="198.2" cy="423.9" r="1.45"/><circle cx="200.9" cy="430.1" r="1.45"/><circle cx="200.9" cy="418.9" r="1.45"/><circle cx="200.9" cy="425.3" r="1.45"/><circle cx="200.9" cy="435.6" r="1.45"/><circle cx="200.9" cy="443.8" r="1.45"/><circle cx="200.9" cy="440.8" r="1.45"/><circle cx="200.9" cy="420.1" r="1.45"/><circle cx="200.9" cy="418.0" r="1.45"/><circle cx="200.9" cy="426.7" r="1.45"/><circle cx="200.9" cy="400.1" r="1.45"/><circle cx="200.9" cy="417.6" r="1.45"/><circle cx="200.9" cy="411.9" r="1.45"/><circle cx="203.7" cy="427.8" r="1.45"/><circle cx="203.7" cy="432.5" r="1.45"/><circle cx="203.7" cy="410.0" r="1.45"/><circle cx="203.7" cy="427.5" r="1.45"/><circle cx="203.7" cy="424.4" r="1.45"/><circle cx="203.7" cy="427.8" r="1.45"/><circle cx="203.7" cy="442.7" r="1.45"/><circle cx="203.7" cy="409.0" r="1.45"/><circle cx="203.7" cy="394.9" r="1.45"/><circle cx="203.7" cy="434.5" r="1.45"/><circle cx="203.7" cy="433.6" r="1.45"/><circle cx="203.7" cy="407.4" r="1.45"/><circle cx="203.7" cy="422.8" r="1.45"/><circle cx="203.7" cy="412.8" r="1.45"/><circle cx="203.7" cy="446.4" r="1.45"/><circle cx="206.4" cy="418.8" r="1.45"/><circle cx="206.4" cy="427.6" r="1.45"/><circle cx="206.4" cy="420.8" r="1.45"/><circle cx="206.4" cy="410.9" r="1.45"/><circle cx="206.4" cy="430.0" r="1.45"/><circle cx="206.4" cy="415.9" r="1.45"/><circle cx="206.4" cy="416.1" r="1.45"/><circle cx="206.4" cy="405.2" r="1.45"/><circle cx="206.4" cy="430.9" r="1.45"/><circle cx="206.4" cy="431.0" r="1.45"/><circle cx="206.4" cy="430.0" r="1.45"/><circle cx="206.4" cy="394.8" r="1.45"/><circle cx="209.2" cy="430.2" r="1.45"/><circle cx="209.2" cy="395.2" r="1.45"/><circle cx="209.2" cy="422.4" r="1.45"/><circle cx="209.2" cy="400.1" r="1.45"/><circle cx="209.2" cy="424.0" r="1.45"/><circle cx="209.2" cy="429.2" r="1.45"/><circle cx="209.2" cy="431.3" r="1.45"/><circle cx="209.2" cy="402.9" r="1.45"/><circle cx="209.2" cy="437.4" r="1.45"/><circle cx="209.2" cy="426.8" r="1.45"/><circle cx="209.2" cy="426.5" r="1.45"/><circle cx="209.2" cy="413.9" r="1.45"/><circle cx="209.2" cy="417.7" r="1.45"/><circle cx="209.2" cy="429.9" r="1.45"/><circle cx="209.2" cy="414.4" r="1.45"/><circle cx="209.2" cy="443.6" r="1.45"/><circle cx="211.9" cy="437.3" r="1.45"/><circle cx="211.9" cy="412.1" r="1.45"/><circle cx="211.9" cy="432.9" r="1.45"/><circle cx="211.9" cy="439.7" r="1.45"/><circle cx="211.9" cy="398.1" r="1.45"/><circle cx="211.9" cy="424.1" r="1.45"/><circle cx="211.9" cy="413.7" r="1.45"/><circle cx="211.9" cy="403.5" r="1.45"/><circle cx="211.9" cy="417.7" r="1.45"/><circle cx="211.9" cy="416.8" r="1.45"/><circle cx="211.9" cy="440.5" r="1.45"/><circle cx="211.9" cy="414.8" r="1.45"/><circle cx="214.7" cy="414.7" r="1.45"/><circle cx="214.7" cy="394.2" r="1.45"/><circle cx="214.7" cy="426.7" r="1.45"/><circle cx="214.7" cy="418.4" r="1.45"/><circle cx="214.7" cy="403.6" r="1.45"/><circle cx="214.7" cy="395.4" r="1.45"/><circle cx="214.7" cy="421.4" r="1.45"/><circle cx="214.7" cy="427.8" r="1.45"/><circle cx="214.7" cy="443.3" r="1.45"/><circle cx="214.7" cy="402.5" r="1.45"/><circle cx="214.7" cy="430.0" r="1.45"/><circle cx="214.7" cy="408.4" r="1.45"/><circle cx="214.7" cy="408.7" r="1.45"/><circle cx="214.7" cy="390.6" r="1.45"/><circle cx="217.4" cy="430.9" r="1.45"/><circle cx="217.4" cy="405.2" r="1.45"/><circle cx="217.4" cy="399.8" r="1.45"/><circle cx="217.4" cy="435.1" r="1.45"/><circle cx="217.4" cy="403.3" r="1.45"/><circle cx="217.4" cy="423.3" r="1.45"/><circle cx="217.4" cy="423.4" r="1.45"/><circle cx="217.4" cy="425.7" r="1.45"/><circle cx="217.4" cy="422.5" r="1.45"/><circle cx="217.4" cy="443.4" r="1.45"/><circle cx="217.4" cy="432.0" r="1.45"/><circle cx="217.4" cy="435.2" r="1.45"/><circle cx="220.2" cy="416.9" r="1.45"/><circle cx="220.2" cy="403.7" r="1.45"/><circle cx="220.2" cy="407.3" r="1.45"/><circle cx="220.2" cy="411.3" r="1.45"/><circle cx="220.2" cy="385.4" r="1.45"/><circle cx="220.2" cy="422.3" r="1.45"/><circle cx="220.2" cy="419.2" r="1.45"/><circle cx="220.2" cy="395.4" r="1.45"/><circle cx="220.2" cy="401.1" r="1.45"/><circle cx="220.2" cy="416.0" r="1.45"/><circle cx="220.2" cy="405.1" r="1.45"/><circle cx="220.2" cy="414.6" r="1.45"/><circle cx="220.2" cy="427.5" r="1.45"/><circle cx="220.2" cy="412.3" r="1.45"/><circle cx="222.9" cy="411.7" r="1.45"/><circle cx="222.9" cy="389.6" r="1.45"/><circle cx="222.9" cy="420.6" r="1.45"/><circle cx="222.9" cy="415.6" r="1.45"/><circle cx="222.9" cy="438.1" r="1.45"/><circle cx="222.9" cy="421.6" r="1.45"/><circle cx="222.9" cy="403.6" r="1.45"/><circle cx="222.9" cy="425.2" r="1.45"/><circle cx="222.9" cy="387.1" r="1.45"/><circle cx="222.9" cy="417.3" r="1.45"/><circle cx="222.9" cy="438.2" r="1.45"/><circle cx="222.9" cy="419.6" r="1.45"/><circle cx="225.7" cy="401.5" r="1.45"/><circle cx="225.7" cy="422.3" r="1.45"/><circle cx="225.7" cy="411.2" r="1.45"/><circle cx="225.7" cy="418.7" r="1.45"/><circle cx="225.7" cy="413.8" r="1.45"/><circle cx="225.7" cy="400.0" r="1.45"/><circle cx="225.7" cy="422.5" r="1.45"/><circle cx="225.7" cy="395.0" r="1.45"/><circle cx="225.7" cy="427.8" r="1.45"/><circle cx="225.7" cy="429.9" r="1.45"/><circle cx="225.7" cy="406.9" r="1.45"/><circle cx="225.7" cy="431.8" r="1.45"/><circle cx="225.7" cy="422.1" r="1.45"/><circle cx="225.7" cy="404.2" r="1.45"/><circle cx="225.7" cy="399.9" r="1.45"/><circle cx="225.7" cy="441.7" r="1.45"/><circle cx="228.4" cy="419.1" r="1.45"/><circle cx="228.4" cy="409.2" r="1.45"/><circle cx="228.4" cy="427.3" r="1.45"/><circle cx="228.4" cy="419.6" r="1.45"/><circle cx="228.4" cy="430.9" r="1.45"/><circle cx="228.4" cy="416.3" r="1.45"/><circle cx="228.4" cy="415.5" r="1.45"/><circle cx="228.4" cy="415.6" r="1.45"/><circle cx="228.4" cy="429.0" r="1.45"/><circle cx="228.4" cy="404.4" r="1.45"/><circle cx="228.4" cy="386.4" r="1.45"/><circle cx="228.4" cy="408.0" r="1.45"/><circle cx="228.4" cy="428.0" r="1.45"/><circle cx="228.4" cy="412.1" r="1.45"/><circle cx="231.2" cy="411.9" r="1.45"/><circle cx="231.2" cy="400.2" r="1.45"/><circle cx="231.2" cy="409.2" r="1.45"/><circle cx="231.2" cy="446.3" r="1.45"/><circle cx="231.2" cy="398.1" r="1.45"/><circle cx="231.2" cy="406.3" r="1.45"/><circle cx="231.2" cy="421.3" r="1.45"/><circle cx="231.2" cy="423.4" r="1.45"/><circle cx="231.2" cy="414.9" r="1.45"/><circle cx="233.9" cy="389.2" r="1.45"/><circle cx="233.9" cy="434.9" r="1.45"/><circle cx="233.9" cy="400.8" r="1.45"/><circle cx="233.9" cy="424.0" r="1.45"/><circle cx="233.9" cy="404.5" r="1.45"/><circle cx="233.9" cy="406.6" r="1.45"/><circle cx="233.9" cy="405.1" r="1.45"/><circle cx="233.9" cy="413.8" r="1.45"/><circle cx="233.9" cy="427.2" r="1.45"/><circle cx="233.9" cy="407.9" r="1.45"/><circle cx="233.9" cy="414.0" r="1.45"/><circle cx="236.7" cy="420.2" r="1.45"/><circle cx="236.7" cy="426.9" r="1.45"/><circle cx="236.7" cy="427.4" r="1.45"/><circle cx="236.7" cy="400.1" r="1.45"/><circle cx="236.7" cy="397.5" r="1.45"/><circle cx="236.7" cy="401.6" r="1.45"/><circle cx="236.7" cy="403.5" r="1.45"/><circle cx="236.7" cy="403.8" r="1.45"/><circle cx="236.7" cy="415.5" r="1.45"/><circle cx="239.4" cy="405.8" r="1.45"/><circle cx="239.4" cy="412.9" r="1.45"/><circle cx="239.4" cy="417.2" r="1.45"/><circle cx="239.4" cy="432.7" r="1.45"/><circle cx="239.4" cy="434.5" r="1.45"/><circle cx="239.4" cy="428.1" r="1.45"/><circle cx="239.4" cy="426.7" r="1.45"/><circle cx="239.4" cy="403.8" r="1.45"/><circle cx="239.4" cy="428.2" r="1.45"/><circle cx="239.4" cy="413.2" r="1.45"/><circle cx="239.4" cy="405.5" r="1.45"/><circle cx="239.4" cy="433.1" r="1.45"/><circle cx="242.2" cy="419.7" r="1.45"/><circle cx="242.2" cy="412.3" r="1.45"/><circle cx="242.2" cy="391.9" r="1.45"/><circle cx="242.2" cy="403.5" r="1.45"/><circle cx="242.2" cy="442.8" r="1.45"/><circle cx="242.2" cy="419.7" r="1.45"/><circle cx="242.2" cy="403.6" r="1.45"/><circle cx="242.2" cy="406.1" r="1.45"/><circle cx="242.2" cy="419.3" r="1.45"/><circle cx="244.9" cy="408.7" r="1.45"/><circle cx="244.9" cy="419.3" r="1.45"/><circle cx="244.9" cy="412.9" r="1.45"/><circle cx="244.9" cy="391.9" r="1.45"/><circle cx="244.9" cy="414.8" r="1.45"/><circle cx="244.9" cy="408.1" r="1.45"/><circle cx="244.9" cy="407.2" r="1.45"/><circle cx="244.9" cy="427.2" r="1.45"/><circle cx="244.9" cy="412.6" r="1.45"/><circle cx="247.7" cy="421.1" r="1.45"/><circle cx="247.7" cy="431.5" r="1.45"/><circle cx="247.7" cy="432.1" r="1.45"/><circle cx="247.7" cy="399.1" r="1.45"/><circle cx="247.7" cy="403.7" r="1.45"/><circle cx="247.7" cy="430.3" r="1.45"/><circle cx="247.7" cy="393.8" r="1.45"/><circle cx="247.7" cy="428.1" r="1.45"/><circle cx="247.7" cy="397.3" r="1.45"/><circle cx="247.7" cy="422.6" r="1.45"/><circle cx="247.7" cy="423.7" r="1.45"/><circle cx="250.4" cy="401.1" r="1.45"/><circle cx="250.4" cy="435.6" r="1.45"/><circle cx="250.4" cy="416.8" r="1.45"/><circle cx="250.4" cy="413.4" r="1.45"/><circle cx="250.4" cy="412.3" r="1.45"/><circle cx="250.4" cy="433.0" r="1.45"/><circle cx="250.4" cy="400.4" r="1.45"/><circle cx="250.4" cy="422.7" r="1.45"/><circle cx="250.4" cy="411.1" r="1.45"/><circle cx="250.4" cy="407.3" r="1.45"/><circle cx="250.4" cy="409.9" r="1.45"/><circle cx="250.4" cy="406.5" r="1.45"/><circle cx="253.2" cy="407.7" r="1.45"/><circle cx="253.2" cy="416.1" r="1.45"/><circle cx="253.2" cy="381.5" r="1.45"/><circle cx="253.2" cy="400.3" r="1.45"/><circle cx="253.2" cy="436.5" r="1.45"/><circle cx="253.2" cy="407.7" r="1.45"/><circle cx="253.2" cy="420.7" r="1.45"/><circle cx="253.2" cy="399.4" r="1.45"/><circle cx="253.2" cy="428.1" r="1.45"/><circle cx="253.2" cy="414.8" r="1.45"/><circle cx="253.2" cy="415.2" r="1.45"/><circle cx="255.9" cy="414.4" r="1.45"/><circle cx="255.9" cy="404.0" r="1.45"/><circle cx="255.9" cy="410.6" r="1.45"/><circle cx="255.9" cy="424.1" r="1.45"/><circle cx="255.9" cy="405.8" r="1.45"/><circle cx="255.9" cy="434.7" r="1.45"/><circle cx="255.9" cy="390.0" r="1.45"/><circle cx="255.9" cy="418.0" r="1.45"/><circle cx="255.9" cy="416.8" r="1.45"/><circle cx="255.9" cy="409.8" r="1.45"/><circle cx="255.9" cy="425.0" r="1.45"/><circle cx="255.9" cy="389.8" r="1.45"/><circle cx="258.6" cy="399.0" r="1.45"/><circle cx="258.6" cy="395.8" r="1.45"/><circle cx="258.6" cy="419.4" r="1.45"/><circle cx="258.6" cy="405.9" r="1.45"/><circle cx="258.6" cy="395.4" r="1.45"/><circle cx="258.6" cy="425.5" r="1.45"/><circle cx="258.6" cy="392.7" r="1.45"/><circle cx="258.6" cy="413.9" r="1.45"/><circle cx="258.6" cy="405.8" r="1.45"/><circle cx="258.6" cy="413.0" r="1.45"/><circle cx="258.6" cy="420.9" r="1.45"/><circle cx="258.6" cy="405.8" r="1.45"/><circle cx="261.4" cy="415.3" r="1.45"/><circle cx="261.4" cy="396.6" r="1.45"/><circle cx="261.4" cy="427.1" r="1.45"/><circle cx="261.4" cy="409.7" r="1.45"/><circle cx="261.4" cy="436.0" r="1.45"/><circle cx="261.4" cy="430.9" r="1.45"/><circle cx="261.4" cy="399.8" r="1.45"/><circle cx="261.4" cy="400.7" r="1.45"/><circle cx="261.4" cy="406.8" r="1.45"/><circle cx="261.4" cy="414.3" r="1.45"/><circle cx="261.4" cy="411.9" r="1.45"/><circle cx="264.1" cy="381.8" r="1.45"/><circle cx="264.1" cy="413.8" r="1.45"/><circle cx="264.1" cy="401.3" r="1.45"/><circle cx="264.1" cy="408.5" r="1.45"/><circle cx="264.1" cy="400.5" r="1.45"/><circle cx="264.1" cy="414.8" r="1.45"/><circle cx="264.1" cy="408.9" r="1.45"/><circle cx="266.9" cy="397.6" r="1.45"/><circle cx="266.9" cy="425.2" r="1.45"/><circle cx="266.9" cy="414.5" r="1.45"/><circle cx="266.9" cy="391.5" r="1.45"/><circle cx="266.9" cy="411.6" r="1.45"/><circle cx="269.6" cy="401.0" r="1.45"/><circle cx="269.6" cy="401.7" r="1.45"/><circle cx="269.6" cy="417.4" r="1.45"/><circle cx="269.6" cy="414.4" r="1.45"/><circle cx="269.6" cy="403.3" r="1.45"/><circle cx="269.6" cy="404.8" r="1.45"/><circle cx="269.6" cy="426.8" r="1.45"/><circle cx="269.6" cy="405.5" r="1.45"/><circle cx="272.4" cy="412.2" r="1.45"/><circle cx="272.4" cy="412.6" r="1.45"/><circle cx="272.4" cy="411.5" r="1.45"/><circle cx="272.4" cy="399.7" r="1.45"/><circle cx="272.4" cy="420.4" r="1.45"/><circle cx="275.1" cy="395.9" r="1.45"/><circle cx="275.1" cy="392.8" r="1.45"/><circle cx="275.1" cy="414.3" r="1.45"/><circle cx="275.1" cy="390.6" r="1.45"/><circle cx="275.1" cy="411.2" r="1.45"/><circle cx="275.1" cy="408.5" r="1.45"/><circle cx="275.1" cy="415.8" r="1.45"/><circle cx="277.9" cy="427.3" r="1.45"/><circle cx="277.9" cy="440.7" r="1.45"/><circle cx="277.9" cy="435.2" r="1.45"/><circle cx="277.9" cy="388.6" r="1.45"/><circle cx="277.9" cy="438.2" r="1.45"/><circle cx="277.9" cy="385.9" r="1.45"/><circle cx="280.6" cy="428.1" r="1.45"/><circle cx="280.6" cy="414.8" r="1.45"/><circle cx="280.6" cy="424.7" r="1.45"/><circle cx="280.6" cy="402.9" r="1.45"/><circle cx="280.6" cy="412.9" r="1.45"/><circle cx="283.4" cy="395.7" r="1.45"/><circle cx="283.4" cy="417.2" r="1.45"/><circle cx="283.4" cy="400.9" r="1.45"/><circle cx="283.4" cy="419.6" r="1.45"/><circle cx="283.4" cy="424.4" r="1.45"/><circle cx="286.1" cy="421.2" r="1.45"/><circle cx="286.1" cy="429.1" r="1.45"/><circle cx="286.1" cy="385.4" r="1.45"/><circle cx="286.1" cy="405.1" r="1.45"/><circle cx="286.1" cy="426.2" r="1.45"/><circle cx="132.0" cy="389.0" r="1.45"/><circle cx="113.0" cy="400.6" r="1.45"/><circle cx="115.4" cy="408.4" r="1.45"/><circle cx="90.6" cy="412.4" r="1.45"/><circle cx="107.4" cy="413.0" r="1.45"/><circle cx="104.6" cy="415.6" r="1.45"/><circle cx="104.6" cy="418.0" r="1.45"/><circle cx="112.7" cy="417.9" r="1.45"/><circle cx="99.0" cy="424.6" r="1.45"/><circle cx="82.5" cy="428.8" r="1.45"/><circle cx="121.1" cy="421.7" r="1.45"/><circle cx="123.9" cy="420.1" r="1.45"/><circle cx="124.0" cy="425.3" r="1.45"/><circle cx="118.2" cy="434.9" r="1.45"/><circle cx="118.2" cy="437.5" r="1.45"/><circle cx="124.0" cy="436.9" r="1.45"/><circle cx="129.0" cy="435.6" r="1.45"/><circle cx="135.0" cy="435.6" r="1.45"/><circle cx="104.3" cy="436.2" r="1.45"/><circle cx="93.6" cy="446.0" r="1.45"/><circle cx="101.8" cy="434.0" r="1.45"/><circle cx="110.1" cy="427.5" r="1.45"/><circle cx="135.0" cy="410.4" r="1.45"/><circle cx="135.0" cy="413.0" r="1.45"/><circle cx="134.0" cy="420.0" r="1.45"/><circle cx="140.6" cy="413.0" r="1.45"/><circle cx="140.6" cy="419.0" r="1.45"/><circle cx="143.0" cy="419.0" r="1.45"/><circle cx="143.0" cy="402.4" r="1.45"/><circle cx="148.6" cy="402.4" r="1.45"/><circle cx="148.6" cy="391.6" r="1.45"/><circle cx="151.0" cy="396.0" r="1.45"/><circle cx="151.0" cy="398.0" r="1.45"/><circle cx="146.0" cy="405.0" r="1.45"/><circle cx="152.0" cy="410.0" r="1.45"/><circle cx="148.6" cy="418.0" r="1.45"/><circle cx="143.0" cy="437.0" r="1.45"/><circle cx="140.6" cy="439.6" r="1.45"/><circle cx="143.0" cy="442.4" r="1.45"/><circle cx="148.6" cy="435.0" r="1.45"/><circle cx="148.6" cy="441.0" r="1.45"/><circle cx="140.0" cy="428.0" r="1.45"/><circle cx="144.0" cy="427.6" r="1.45"/><circle cx="151.0" cy="430.0" r="1.45"/><circle cx="151.0" cy="425.0" r="1.45"/><circle cx="146.0" cy="432.0" r="1.45"/><circle cx="151.0" cy="444.0" r="1.45"/><circle cx="146.0" cy="446.0" r="1.45"/><circle cx="184.4" cy="364.4" r="1.45"/><circle cx="233.9" cy="367.9" r="1.45"/><circle cx="231.1" cy="371.3" r="1.45"/><circle cx="236.7" cy="375.0" r="1.45"/><circle cx="206.3" cy="376.4" r="1.45"/><circle cx="212.0" cy="376.4" r="1.45"/><circle cx="209.2" cy="380.2" r="1.45"/><circle cx="206.3" cy="382.3" r="1.45"/><circle cx="200.7" cy="380.6" r="1.45"/><circle cx="233.9" cy="381.6" r="1.45"/><circle cx="217.7" cy="385.1" r="1.45"/><circle cx="222.6" cy="384.4" r="1.45"/><circle cx="275.2" cy="325.5" r="1.45"/><circle cx="278.0" cy="337.1" r="1.45"/><circle cx="294.5" cy="348.1" r="1.45"/><circle cx="253.1" cy="358.0" r="1.45"/><circle cx="253.1" cy="362.0" r="1.45"/><circle cx="278.0" cy="361.4" r="1.45"/><circle cx="283.5" cy="360.0" r="1.45"/><circle cx="283.5" cy="371.0" r="1.45"/><circle cx="233.8" cy="368.3" r="1.45"/><circle cx="242.1" cy="367.5" r="1.45"/><circle cx="267.0" cy="370.5" r="1.45"/><circle cx="247.6" cy="373.8" r="1.45"/><circle cx="308.3" cy="442.8" r="1.45"/><circle cx="272.5" cy="445.5" r="1.45"/><circle cx="237.4" cy="448.3" r="1.45"/><circle cx="156.9" cy="388.7" r="1.45"/><circle cx="260.9" cy="376.6" r="1.45"/><circle cx="262.3" cy="378.5" r="1.45"/><circle cx="283.5" cy="386.2" r="1.45"/><circle cx="176.7" cy="389.7" r="1.45"/><circle cx="178.8" cy="389.7" r="1.45"/><circle cx="190.1" cy="389.1" r="1.45"/><circle cx="198.6" cy="391.8" r="1.45"/></g>
<g fill="none" stroke="#ff0000" stroke-width="1.05"><path d="M80.2,433.8 L82.7,431.3 L85.2,433.8 L82.7,436.3 Z"/><path d="M85.7,433.1 L88.2,430.6 L90.7,433.1 L88.2,435.6 Z"/><path d="M88.4,432.7 L90.9,430.2 L93.4,432.7 L90.9,435.2 Z"/><path d="M91.2,432.4 L93.7,429.9 L96.2,432.4 L93.7,434.9 Z"/><path d="M96.7,431.6 L99.2,429.1 L101.7,431.6 L99.2,434.1 Z"/><path d="M99.4,431.3 L101.9,428.8 L104.4,431.3 L101.9,433.8 Z"/><path d="M102.2,430.9 L104.7,428.4 L107.2,430.9 L104.7,433.4 Z"/><path d="M104.9,430.5 L107.4,428.0 L109.9,430.5 L107.4,433.0 Z"/><path d="M107.7,430.2 L110.2,427.7 L112.7,430.2 L110.2,432.7 Z"/><path d="M110.4,429.8 L112.9,427.3 L115.4,429.8 L112.9,432.3 Z"/><path d="M113.2,429.4 L115.7,426.9 L118.2,429.4 L115.7,431.9 Z"/><path d="M115.9,429.1 L118.4,426.6 L120.9,429.1 L118.4,431.6 Z"/><path d="M118.7,428.7 L121.2,426.2 L123.7,428.7 L121.2,431.2 Z"/><path d="M121.4,428.3 L123.9,425.8 L126.4,428.3 L123.9,430.8 Z"/><path d="M124.2,428.0 L126.7,425.5 L129.2,428.0 L126.7,430.5 Z"/><path d="M126.9,427.6 L129.4,425.1 L131.9,427.6 L129.4,430.1 Z"/><path d="M129.7,427.2 L132.2,424.7 L134.7,427.2 L132.2,429.7 Z"/><path d="M132.4,426.9 L134.9,424.4 L137.4,426.9 L134.9,429.4 Z"/><path d="M135.2,426.5 L137.7,424.0 L140.2,426.5 L137.7,429.0 Z"/><path d="M137.9,426.2 L140.4,423.7 L142.9,426.2 L140.4,428.7 Z"/><path d="M140.7,425.8 L143.2,423.3 L145.7,425.8 L143.2,428.3 Z"/><path d="M143.4,425.4 L145.9,422.9 L148.4,425.4 L145.9,427.9 Z"/><path d="M146.2,425.1 L148.7,422.6 L151.2,425.1 L148.7,427.6 Z"/><path d="M148.9,424.7 L151.4,422.2 L153.9,424.7 L151.4,427.2 Z"/><path d="M151.7,424.3 L154.2,421.8 L156.7,424.3 L154.2,426.8 Z"/><path d="M154.4,424.0 L156.9,421.5 L159.4,424.0 L156.9,426.5 Z"/><path d="M157.2,423.6 L159.7,421.1 L162.2,423.6 L159.7,426.1 Z"/><path d="M159.9,423.3 L162.4,420.8 L164.9,423.3 L162.4,425.8 Z"/><path d="M162.7,422.9 L165.2,420.4 L167.7,422.9 L165.2,425.4 Z"/><path d="M165.4,422.5 L167.9,420.0 L170.4,422.5 L167.9,425.0 Z"/><path d="M168.2,422.2 L170.7,419.7 L173.2,422.2 L170.7,424.7 Z"/><path d="M170.9,421.8 L173.4,419.3 L175.9,421.8 L173.4,424.3 Z"/><path d="M173.7,421.5 L176.2,419.0 L178.7,421.5 L176.2,424.0 Z"/><path d="M176.4,421.1 L178.9,418.6 L181.4,421.1 L178.9,423.6 Z"/><path d="M179.2,420.8 L181.7,418.3 L184.2,420.8 L181.7,423.3 Z"/><path d="M181.9,420.4 L184.4,417.9 L186.9,420.4 L184.4,422.9 Z"/><path d="M184.7,420.0 L187.2,417.5 L189.7,420.0 L187.2,422.5 Z"/><path d="M187.4,419.7 L189.9,417.2 L192.4,419.7 L189.9,422.2 Z"/><path d="M190.2,419.3 L192.7,416.8 L195.2,419.3 L192.7,421.8 Z"/><path d="M192.9,419.0 L195.4,416.5 L197.9,419.0 L195.4,421.5 Z"/><path d="M195.7,418.6 L198.2,416.1 L200.7,418.6 L198.2,421.1 Z"/><path d="M198.4,418.3 L200.9,415.8 L203.4,418.3 L200.9,420.8 Z"/><path d="M201.2,417.9 L203.7,415.4 L206.2,417.9 L203.7,420.4 Z"/><path d="M203.9,417.5 L206.4,415.0 L208.9,417.5 L206.4,420.0 Z"/><path d="M206.7,417.2 L209.2,414.7 L211.7,417.2 L209.2,419.7 Z"/><path d="M209.4,416.8 L211.9,414.3 L214.4,416.8 L211.9,419.3 Z"/><path d="M212.2,416.5 L214.7,414.0 L217.2,416.5 L214.7,419.0 Z"/><path d="M214.9,416.1 L217.4,413.6 L219.9,416.1 L217.4,418.6 Z"/><path d="M217.7,415.8 L220.2,413.3 L222.7,415.8 L220.2,418.3 Z"/><path d="M220.4,415.4 L222.9,412.9 L225.4,415.4 L222.9,417.9 Z"/><path d="M223.2,415.1 L225.7,412.6 L228.2,415.1 L225.7,417.6 Z"/><path d="M225.9,414.7 L228.4,412.2 L230.9,414.7 L228.4,417.2 Z"/><path d="M228.7,414.4 L231.2,411.9 L233.7,414.4 L231.2,416.9 Z"/><path d="M231.4,414.0 L233.9,411.5 L236.4,414.0 L233.9,416.5 Z"/><path d="M234.2,413.7 L236.7,411.2 L239.2,413.7 L236.7,416.2 Z"/><path d="M236.9,413.3 L239.4,410.8 L241.9,413.3 L239.4,415.8 Z"/><path d="M239.7,413.0 L242.2,410.5 L244.7,413.0 L242.2,415.5 Z"/><path d="M242.4,412.6 L244.9,410.1 L247.4,412.6 L244.9,415.1 Z"/><path d="M245.2,412.3 L247.7,409.8 L250.2,412.3 L247.7,414.8 Z"/><path d="M247.9,411.9 L250.4,409.4 L252.9,411.9 L250.4,414.4 Z"/><path d="M250.7,411.6 L253.2,409.1 L255.7,411.6 L253.2,414.1 Z"/><path d="M253.4,411.2 L255.9,408.7 L258.4,411.2 L255.9,413.7 Z"/><path d="M256.1,410.9 L258.6,408.4 L261.1,410.9 L258.6,413.4 Z"/><path d="M258.9,410.5 L261.4,408.0 L263.9,410.5 L261.4,413.0 Z"/><path d="M261.6,410.2 L264.1,407.7 L266.6,410.2 L264.1,412.7 Z"/><path d="M264.4,409.8 L266.9,407.3 L269.4,409.8 L266.9,412.3 Z"/><path d="M267.1,409.5 L269.6,407.0 L272.1,409.5 L269.6,412.0 Z"/><path d="M269.9,409.1 L272.4,406.6 L274.9,409.1 L272.4,411.6 Z"/><path d="M272.6,408.8 L275.1,406.3 L277.6,408.8 L275.1,411.3 Z"/><path d="M275.4,408.4 L277.9,405.9 L280.4,408.4 L277.9,410.9 Z"/><path d="M278.1,408.1 L280.6,405.6 L283.1,408.1 L280.6,410.6 Z"/><path d="M280.9,407.7 L283.4,405.2 L285.9,407.7 L283.4,410.2 Z"/><path d="M283.6,407.4 L286.1,404.9 L288.6,407.4 L286.1,409.9 Z"/><path d="M291.9,406.3 L294.4,403.8 L296.9,406.3 L294.4,408.8 Z"/><path d="M305.6,404.6 L308.1,402.1 L310.6,404.6 L308.1,407.1 Z"/></g>
<text x="75.2" y="332.1" font-size="11.6" font-family="Liberation Sans, sans-serif" text-anchor="start" fill="#000" textLength="72" lengthAdjust="spacingAndGlyphs" >delta=5e-05</text>
<text x="79.7" y="342.4" font-size="11.6" font-family="Liberation Sans, sans-serif" text-anchor="start" fill="#000" textLength="67.5" lengthAdjust="spacingAndGlyphs" >beta0=0.05</text>
<text x="94.5" y="354" font-size="11.6" font-family="Liberation Sans, sans-serif" text-anchor="start" fill="#000" textLength="36" lengthAdjust="spacingAndGlyphs" >IR=35</text>
<text x="75.8" y="364.9" font-size="11.6" font-family="Liberation Sans, sans-serif" text-anchor="start" fill="#000" textLength="90.5" lengthAdjust="spacingAndGlyphs" >delta*IR=0.002</text>
<line x1="477.6" y1="6.2" x2="494.3" y2="150.9" stroke="#000" stroke-width="1.0" />
<line x1="477.6" y1="6.2" x2="615.1" y2="0.7" stroke="#000" stroke-width="1.0" />
<line x1="615.1" y1="0.7" x2="731" y2="10.4" stroke="#000" stroke-width="1.0" />
<line x1="615.1" y1="0.7" x2="615.3" y2="60" stroke="#000" stroke-width="1.0" />
<line x1="731" y1="10.4" x2="706" y2="182" stroke="#000" stroke-width="1.0" />
<polygon points="494.3,150.9 615.5,121.5 706.0,182.0 550.0,251.0" fill="#98767c" />
<line x1="494.3" y1="150.9" x2="615.5" y2="121.5" stroke="#3a2a2c" stroke-width="0.8" />
<line x1="494.3" y1="150.9" x2="550" y2="251" stroke="#3a2a2c" stroke-width="0.6" />
<line x1="615.5" y1="121.5" x2="706" y2="182" stroke="#3a2a2c" stroke-width="0.6" />
<polygon points="613.3,49.9 631.4,54.3 630.5,87.6 647.2,96.2 646.7,128.0 613.3,124.0" fill="#e20e0e" />
<line x1="612.8" y1="75.2" x2="630" y2="81" stroke="#b00808" stroke-width="0.7" />
<polygon points="610.3,113.4 624.1,121.0 626.0,113.4 646.5,124.4 651.5,128.0 648.0,134.0 637.0,137.0 626.7,143.0 611.0,137.0 609.6,126.0" fill="#e8646a" />
<line x1="610.3" y1="113.4" x2="624.1" y2="121" stroke="#c8454c" stroke-width="0.7" />
<line x1="609.8" y1="118.5" x2="646" y2="137" stroke="#c8454c" stroke-width="0.6" />
<line x1="626" y1="113.4" x2="646.5" y2="124.4" stroke="#c8454c" stroke-width="0.6" />
<line x1="624" y1="124.5" x2="650" y2="133.5" stroke="#b83a42" stroke-width="0.8" />
<polygon points="611.1,131.7 622.5,129.4 630.9,135.5 623.3,137.8" fill="#b9383e" />
<polygon points="611.1,131.7 623.3,137.8 623.3,142.0 611.1,136.0" fill="#e8646a" />
<polygon points="664.3,13.1 678.8,13.1 669.0,196.0 655.2,197.0" fill="#9b2c2c" />
<polygon points="664.3,13.1 678.8,13.1 678.7,14.3 664.3,14.3" fill="#8a2424" />
<polygon points="624.0,138.1 635.5,137.7 634.3,208.6 624.5,212.7" fill="#e20e0e" />
<polygon points="624.0,138.1 632.2,135.9 635.8,137.7 627.7,140.3" fill="#b50a0a" />
<polygon points="633.5,198.0 640.3,196.5 640.3,206.1 633.5,208.9" fill="#e8646a" />
<polygon points="633.5,198.0 637.5,196.0 641.0,197.0 637.0,199.0" fill="#b9383e" />
<polygon points="639.4,133.6 661.0,131.5 657.0,199.6 640.3,206.1" fill="#e20e0e" />
<polygon points="639.4,133.6 654.5,129.5 661.0,131.5 645.0,135.8" fill="#b50a0a" />
<polygon points="669.8,98.7 687.4,102.9 685.6,186.5 663.0,194.5" fill="#e20e0e" />
<polygon points="669.6,98.7 674.0,96.6 688.8,100.6 687.4,102.9" fill="#b50a0a" />
<polygon points="669.6,98.7 676.0,99.5 676.0,104.0 669.6,106.0" fill="#c00a0a" />
<polygon points="672.6,152.0 681.2,149.4 685.5,151.1 676.9,154.6" fill="#b50a0a" />
<polygon points="560.0,228.0 572.5,223.0 572.5,234.2 560.0,239.4" fill="#e8646a" stroke="#e8646a" stroke-width="0.6" />
<polygon points="572.5,216.7 589.3,210.0 589.3,227.2 572.5,234.2" fill="#e8646a" stroke="#e8646a" stroke-width="0.6" />
<polygon points="589.3,218.5 600.8,213.9 600.8,222.5 589.3,227.2" fill="#e8646a" stroke="#e8646a" stroke-width="0.6" />
<polygon points="600.8,201.5 610.0,197.8 610.0,218.7 600.8,222.5" fill="#e8646a" stroke="#e8646a" stroke-width="0.6" />
<polygon points="610.0,193.0 615.5,190.8 615.5,216.4 610.0,218.7" fill="#e8646a" stroke="#e8646a" stroke-width="0.6" />
<polygon points="615.5,181.4 627.5,176.6 627.5,211.4 615.5,216.4" fill="#e8646a" stroke="#e8646a" stroke-width="0.6" />
<polygon points="560.0,228.0 572.5,223.0 569.5,217.5 557.0,222.5" fill="#b9383e" />
<polygon points="572.5,216.7 589.3,210.0 586.3,204.5 569.5,211.2" fill="#b9383e" />
<polygon points="589.3,218.5 600.8,213.9 597.8,208.4 586.3,213.0" fill="#b9383e" />
<polygon points="600.8,201.5 610.0,197.8 607.0,192.3 597.8,196.0" fill="#b9383e" />
<polygon points="610.0,193.0 615.5,190.8 612.5,185.3 607.0,187.5" fill="#b9383e" />
<polygon points="615.5,181.4 627.5,176.6 624.5,171.1 612.5,175.9" fill="#b9383e" />
<polygon points="544.6,184.5 549.5,188.0 560.0,184.0 560.0,245.5 549.5,250.5 546.0,246.0" fill="#e20e0e" />
<polygon points="544.6,184.5 555.0,180.5 560.0,184.0 549.5,188.0" fill="#b50a0a" />
<line x1="488.7753" y1="150.7" x2="494.2753" y2="150.7" stroke="#000" stroke-width="1" />
<text x="488.2753" y="154.89999999999998" font-size="12" font-family="Liberation Sans, sans-serif" text-anchor="end" fill="#000" >0</text>
<line x1="485.75182" y1="124.5" x2="491.25182" y2="124.5" stroke="#000" stroke-width="1" />
<text x="485.25182" y="128.7" font-size="12" font-family="Liberation Sans, sans-serif" text-anchor="end" fill="#000" >5</text>
<line x1="482.61294000000004" y1="97.3" x2="488.11294000000004" y2="97.3" stroke="#000" stroke-width="1" />
<text x="482.11294000000004" y="101.5" font-size="12" font-family="Liberation Sans, sans-serif" text-anchor="end" fill="#000" >10</text>
<line x1="478.98938000000004" y1="65.9" x2="484.48938000000004" y2="65.9" stroke="#000" stroke-width="1" />
<text x="478.48938000000004" y="70.10000000000001" font-size="12" font-family="Liberation Sans, sans-serif" text-anchor="end" fill="#000" >15</text>
<line x1="475.16964" y1="32.8" x2="480.66964" y2="32.8" stroke="#000" stroke-width="1" />
<text x="474.66964" y="37.0" font-size="12" font-family="Liberation Sans, sans-serif" text-anchor="end" fill="#000" >20</text>
<text x="451" y="95.2" font-size="15" font-family="Liberation Sans, sans-serif" font-weight="bold" text-anchor="middle" fill="#000" textLength="34" lengthAdjust="spacingAndGlyphs" transform="rotate(90 451 95.2)">Count</text>
<line x1="496.11692150866463" y1="154.1" x2="491.3169215086646" y2="160.1" stroke="#000" stroke-width="1" />
<text x="491.6" y="172.1" font-size="12" font-family="Liberation Sans, sans-serif" text-anchor="end" fill="#000" >1e-03</text>
<line x1="504.23628950050966" y1="168.39999999999998" x2="499.43628950050964" y2="174.39999999999998" stroke="#000" stroke-width="1" />
<text x="498.3" y="186.39999999999998" font-size="12" font-family="Liberation Sans, sans-serif" text-anchor="end" fill="#000" >8e-04</text>
<line x1="513.4344546381244" y1="184.6" x2="508.6344546381244" y2="190.6" stroke="#000" stroke-width="1" />
<text x="508.9" y="202.6" font-size="12" font-family="Liberation Sans, sans-serif" text-anchor="end" fill="#000" >6e-04</text>
<line x1="523.9953109072375" y1="203.2" x2="519.1953109072375" y2="209.2" stroke="#000" stroke-width="1" />
<text x="522.6" y="221.2" font-size="12" font-family="Liberation Sans, sans-serif" text-anchor="end" fill="#000" >4e-04</text>
<line x1="537.3383282364933" y1="226.7" x2="532.5383282364934" y2="232.7" stroke="#000" stroke-width="1" />
<text x="537.0" y="244.7" font-size="12" font-family="Liberation Sans, sans-serif" text-anchor="end" fill="#000" >2e-04</text>
<line x1="551.0220183486239" y1="250.8" x2="546.2220183486239" y2="256.8" stroke="#000" stroke-width="1" />
<text x="543.6" y="268.8" font-size="12" font-family="Liberation Sans, sans-serif" text-anchor="end" fill="#000" >0e+00</text>
<text x="459.2" y="214.2" font-size="16" font-family="Liberation Sans, sans-serif" font-weight="bold" text-anchor="middle" fill="#000" transform="rotate(72.6 459.2 214.2)">delta</text>
<line x1="555.3" y1="250.3" x2="558" y2="258.4" stroke="#000" stroke-width="1" />
<text x="562" y="273.7" font-size="12.3" font-family="Liberation Sans, sans-serif" text-anchor="middle" fill="#000" >100</text>
<line x1="593.1" y1="233.2" x2="596.7" y2="241.3" stroke="#000" stroke-width="1" />
<text x="599" y="255.7" font-size="12.3" font-family="Liberation Sans, sans-serif" text-anchor="middle" fill="#000" >80</text>
<line x1="627.3" y1="217.9" x2="630" y2="226" stroke="#000" stroke-width="1" />
<text x="632.5" y="239.5" font-size="12.3" font-family="Liberation Sans, sans-serif" text-anchor="middle" fill="#000" >60</text>
<line x1="656" y1="205.3" x2="659.7" y2="213.4" stroke="#000" stroke-width="1" />
<text x="662" y="225.1" font-size="12.3" font-family="Liberation Sans, sans-serif" text-anchor="middle" fill="#000" >40</text>
<line x1="682.9" y1="194" x2="686" y2="200.9" stroke="#000" stroke-width="1" />
<text x="688.9" y="212" font-size="12.3" font-family="Liberation Sans, sans-serif" text-anchor="middle" fill="#000" >20</text>
<text x="641" y="257.5" font-size="13.5" font-family="Liberation Sans, sans-serif" font-weight="bold" text-anchor="middle" fill="#000" transform="rotate(-18 641 257.5)">IR</text>
<text x="539" y="33.7" font-size="11.8" font-family="Liberation Sans, sans-serif" font-style="italic" text-anchor="middle" fill="#000" textLength="44" lengthAdjust="spacingAndGlyphs" >Peak at</text>
<text x="539" y="47.7" font-size="11.8" font-family="Liberation Sans, sans-serif" font-style="italic" text-anchor="middle" fill="#000" textLength="35" lengthAdjust="spacingAndGlyphs" >IR=35</text>
<text x="539" y="62" font-size="11.8" font-family="Liberation Sans, sans-serif" font-style="italic" text-anchor="middle" fill="#000" textLength="60.5" lengthAdjust="spacingAndGlyphs" >delta=5e-5</text>
<line x1="565.5" y1="35.1" x2="655" y2="19.9" stroke="#222" stroke-width="1.6" />
<polygon points="665.3,18.1 649.8,15.2 654.0,20.4 651.6,25.6" fill="#222" />
<text x="744" y="134.9" font-size="12.3" font-family="Liberation Sans, sans-serif" text-anchor="middle" fill="#000" textLength="33.5" lengthAdjust="spacingAndGlyphs" >Count</text>
<rect x="736.6" y="139.8" width="11.6" height="21.6" fill="#a52a2a"/>
<text x="753.5" y="154.60000000000002" font-size="10.8" font-family="Liberation Sans, sans-serif" text-anchor="start" fill="#000" >&gt;20</text>
<rect x="736.6" y="161.3" width="11.6" height="21.6" fill="#cc1c1c"/>
<text x="753.5" y="176.10000000000002" font-size="10.8" font-family="Liberation Sans, sans-serif" text-anchor="start" fill="#000" >16-20</text>
<rect x="736.6" y="182.8" width="11.6" height="21.6" fill="#ff0000"/>
<text x="753.5" y="197.60000000000002" font-size="10.8" font-family="Liberation Sans, sans-serif" text-anchor="start" fill="#000" >11-15</text>
<rect x="736.6" y="204.3" width="11.6" height="21.6" fill="#ff0000"/>
<text x="753.5" y="219.10000000000002" font-size="10.8" font-family="Liberation Sans, sans-serif" text-anchor="start" fill="#000" >6-10</text>
<rect x="736.6" y="225.8" width="11.6" height="21.6" fill="#ff6b6b"/>
<text x="753.5" y="240.60000000000002" font-size="10.8" font-family="Liberation Sans, sans-serif" text-anchor="start" fill="#000" >1-5</text>
<rect x="736.6" y="247.3" width="11.6" height="21.6" fill="#f4bac2"/>
<text x="753.5" y="262.1" font-size="10.8" font-family="Liberation Sans, sans-serif" text-anchor="start" fill="#000" >0</text>
<text x="375.3" y="298.7" font-size="34" font-family="Liberation Sans, sans-serif" font-weight="bold" text-anchor="start" fill="#000" >b)</text>
<path d="M596.6,262.6 L606.9,262.6 L606.9,294.8 L611.4,294.8 L601.5,306 L591.4,294.8 L596.6,294.8 Z" fill="#fff" stroke="#222" stroke-width="1.2"/>
<circle cx="520" cy="360.6" r="26.2" fill="#f6fafd" stroke="#333" stroke-width="1.2"/>
<g clip-path="url(#bc)"><circle cx="500.6" cy="347.7" r="3.2" fill="#a9d0e6" stroke="#7fb5d8" stroke-width="0.8"/><circle cx="500.6" cy="347.7" r="1.6" fill="#3f7fc0"/><circle cx="515.4" cy="347.7" r="3.2" fill="#a9d0e6" stroke="#7fb5d8" stroke-width="0.8"/><circle cx="515.4" cy="347.7" r="1.6" fill="#3f7fc0"/><circle cx="531.3" cy="341.2" r="3.2" fill="#a9d0e6" stroke="#7fb5d8" stroke-width="0.8"/><circle cx="531.3" cy="341.2" r="1.6" fill="#3f7fc0"/><circle cx="537.8" cy="347.7" r="3.2" fill="#a9d0e6" stroke="#7fb5d8" stroke-width="0.8"/><circle cx="537.8" cy="347.7" r="1.6" fill="#3f7fc0"/><circle cx="507.7" cy="354.2" r="3.2" fill="#a9d0e6" stroke="#7fb5d8" stroke-width="0.8"/><circle cx="507.7" cy="354.2" r="1.6" fill="#3f7fc0"/><circle cx="518.9" cy="358.9" r="3.2" fill="#a9d0e6" stroke="#7fb5d8" stroke-width="0.8"/><circle cx="518.9" cy="358.9" r="1.6" fill="#3f7fc0"/><circle cx="505.4" cy="363.1" r="3.2" fill="#a9d0e6" stroke="#7fb5d8" stroke-width="0.8"/><circle cx="505.4" cy="363.1" r="1.6" fill="#3f7fc0"/><circle cx="523.1" cy="367.8" r="3.2" fill="#a9d0e6" stroke="#7fb5d8" stroke-width="0.8"/><circle cx="523.1" cy="367.8" r="1.6" fill="#3f7fc0"/><circle cx="500.6" cy="373.1" r="3.2" fill="#a9d0e6" stroke="#7fb5d8" stroke-width="0.8"/><circle cx="500.6" cy="373.1" r="1.6" fill="#3f7fc0"/><circle cx="528.4" cy="379.6" r="3.2" fill="#a9d0e6" stroke="#7fb5d8" stroke-width="0.8"/><circle cx="528.4" cy="379.6" r="1.6" fill="#3f7fc0"/><circle cx="519.5" cy="383.7" r="3.2" fill="#a9d0e6" stroke="#7fb5d8" stroke-width="0.8"/><circle cx="519.5" cy="383.7" r="1.6" fill="#3f7fc0"/><circle cx="530.7" cy="374.3" r="3.2" fill="#a9d0e6" stroke="#7fb5d8" stroke-width="0.8"/><circle cx="530.7" cy="374.3" r="1.6" fill="#3f7fc0"/><circle cx="507.1" cy="341.8" r="3.7" fill="#c597cf"/><circle cx="507.1" cy="341.8" r="2.1" fill="#86287f"/><circle cx="517.2" cy="338.9" r="3.7" fill="#c597cf"/><circle cx="517.2" cy="338.9" r="2.1" fill="#86287f"/><circle cx="530.2" cy="354.8" r="3.7" fill="#c597cf"/><circle cx="530.2" cy="354.8" r="2.1" fill="#86287f"/><circle cx="540.8" cy="356" r="3.7" fill="#c597cf"/><circle cx="540.8" cy="356" r="2.1" fill="#86287f"/><circle cx="500.6" cy="361.3" r="3.7" fill="#c597cf"/><circle cx="500.6" cy="361.3" r="2.1" fill="#86287f"/><circle cx="532.5" cy="361.9" r="3.7" fill="#c597cf"/><circle cx="532.5" cy="361.9" r="2.1" fill="#86287f"/><circle cx="508.3" cy="374.9" r="3.7" fill="#c597cf"/><circle cx="508.3" cy="374.9" r="2.1" fill="#86287f"/><circle cx="513.6" cy="373.7" r="3.7" fill="#c597cf"/><circle cx="513.6" cy="373.7" r="2.1" fill="#86287f"/><circle cx="540.8" cy="370.2" r="3.7" fill="#c597cf"/><circle cx="540.8" cy="370.2" r="2.1" fill="#86287f"/><circle cx="524.8" cy="354.8" r="2.6" fill="#fff3dc" stroke="#f0a030" stroke-width="1.3"/><circle cx="542" cy="363.7" r="2.6" fill="#fff3dc" stroke="#f0a030" stroke-width="1.3"/><circle cx="514.8" cy="369" r="2.6" fill="#fff3dc" stroke="#f0a030" stroke-width="1.3"/><circle cx="537.2" cy="374.3" r="2.6" fill="#fff3dc" stroke="#f0a030" stroke-width="1.3"/><ellipse cx="505.4" cy="344.8" rx="4.8" ry="3.6" transform="rotate(20 505.4 344.8)" fill="#a8191c"/><ellipse cx="514.2" cy="343" rx="4" ry="3" transform="rotate(0 514.2 343)" fill="#a8191c"/><ellipse cx="525.4" cy="341.8" rx="4.6" ry="3.6" transform="rotate(-10 525.4 341.8)" fill="#a8191c"/><ellipse cx="532.5" cy="347.7" rx="4.2" ry="3.6" transform="rotate(0 532.5 347.7)" fill="#a8191c"/><ellipse cx="521.3" cy="349.5" rx="4.5" ry="3.5" transform="rotate(10 521.3 349.5)" fill="#a8191c"/><ellipse cx="515.4" cy="353" rx="4.4" ry="3.3" transform="rotate(-15 515.4 353)" fill="#a8191c"/><ellipse cx="500" cy="355.4" rx="4.8" ry="3.8" transform="rotate(0 500 355.4)" fill="#a8191c"/><ellipse cx="508.9" cy="358.3" rx="3" ry="2.4" transform="rotate(0 508.9 358.3)" fill="#a8191c"/><ellipse cx="514.8" cy="361.3" rx="4.4" ry="3.4" transform="rotate(-20 514.8 361.3)" fill="#a8191c"/><ellipse cx="523.1" cy="360.7" rx="4" ry="2.8" transform="rotate(10 523.1 360.7)" fill="#a8191c"/><ellipse cx="538.4" cy="360.1" rx="4" ry="3.6" transform="rotate(0 538.4 360.1)" fill="#a8191c"/><ellipse cx="503.6" cy="369.6" rx="4.2" ry="3.2" transform="rotate(15 503.6 369.6)" fill="#a8191c"/><ellipse cx="510.1" cy="367.8" rx="3.6" ry="4.4" transform="rotate(0 510.1 367.8)" fill="#a8191c"/><ellipse cx="518.3" cy="370.7" rx="3" ry="2.4" transform="rotate(0 518.3 370.7)" fill="#a8191c"/><ellipse cx="527.8" cy="368.4" rx="4.2" ry="3.6" transform="rotate(0 527.8 368.4)" fill="#a8191c"/><ellipse cx="535.5" cy="368.4" rx="3.6" ry="4.4" transform="rotate(10 535.5 368.4)" fill="#a8191c"/><ellipse cx="521.3" cy="377.2" rx="4.6" ry="3.2" transform="rotate(0 521.3 377.2)" fill="#a8191c"/><ellipse cx="510.7" cy="379" rx="3.6" ry="2.8" transform="rotate(0 510.7 379)" fill="#a8191c"/></g>
<circle cx="520" cy="360.6" r="26.2" fill="none" stroke="#333" stroke-width="1.2"/>
<defs><linearGradient id="cg" x1="0" x2="1" y1="0" y2="0"><stop offset="0" stop-color="#b4b4b4"/><stop offset="1" stop-color="#e8e8e8"/></linearGradient><clipPath id="bc"><circle cx="520" cy="360.6" r="25.6"/></clipPath></defs>
<polygon points="608.5,329.8 673.2,321.7 662.9,360.6" fill="url(#cg)" />
<ellipse cx="603.4" cy="324.6" rx="5.7" ry="6.3" fill="#f7a238"/><path d="M608,323.5 L610,326.5 L608.5,327.5 Z" fill="#f7a238"/>
<path d="M600,329 L600,334.6 C595,335.2 590.5,336.2 589.3,340 C588,346 586.5,355 584,363 C582,366.5 578.5,368.5 577.3,371.5 C576.5,374.5 578.5,377.6 580.3,377 C582,376 582.6,372 584.2,369.5 C587,364 590.5,355 593.6,347.5 C593.8,355 593.6,362 593.2,368 C592.4,376 592.8,388 594.4,398 C595.3,407 595.3,415 595.6,420 C594.6,422 596,423.2 599.5,422.8 C600.5,416 601,407 601.5,398 C602,390 602.5,385.5 603.2,384.5 C604,385.5 604.5,390 605,398 C605.5,407 606,416 607,422.8 C610.5,423.2 611.8,422 610.8,420 C611.1,415 611.1,407 612,398 C613.6,388 614,376 613.2,368 C612.8,362 612.6,355 612.8,347.5 C615.8,355 619.2,364 622,369.5 C623.6,372 624.2,376 625.9,377 C627.7,377.6 629.7,374.5 628.9,371.5 C627.7,368.5 624.2,366.5 622.2,363 C619.7,355 618.2,346 616.9,340 C615.7,336.2 611,335.2 606.2,334.6 L606.2,329 Z" fill="#f7a238"/>
<path d="M596.3,349.5 C599,347.6 603.5,347.3 606,348.3 C606.2,351 604,353.5 600.5,354.5 C598.5,355 596.8,353.5 596.3,349.5 Z" fill="#962832"/><path d="M596.6,349.6 C597.8,348.8 599,348.6 600,348.8 C599.8,351 599,353 598,353.8 C597,352.8 596.7,351.5 596.6,349.6 Z" fill="#8a86a8"/>
<text x="610.2" y="409.2" font-size="15" font-family="Liberation Sans, sans-serif" font-style="italic" text-anchor="start" fill="#000" stroke="#000" stroke-width="0.3">s</text>
<line x1="533.5" y1="335.5" x2="594" y2="347.5" stroke="#222" stroke-width="1.5" stroke-dasharray="5,3.5"/>
<line x1="541.5" y1="378.6" x2="596.5" y2="353.4" stroke="#222" stroke-width="1.5" stroke-dasharray="5,3.5"/>
<circle cx="690" cy="345.5" r="27" fill="#b7a0d0"/>
<circle cx="683.0" cy="317.6" r="5.3" fill="#b7a0d0" stroke="#6a5585" stroke-width="0.6"/><circle cx="684.8" cy="325.0" r="4.9" fill="#b7a0d0" stroke="#6a5585" stroke-width="0.6"/><circle cx="693.0" cy="324.5" r="4.9" fill="#b7a0d0" stroke="#6a5585" stroke-width="0.6"/><circle cx="710.2" cy="324.1" r="4.8" fill="#b7a0d0" stroke="#6a5585" stroke-width="0.6"/><circle cx="674.3" cy="332.0" r="5.3" fill="#b7a0d0" stroke="#6a5585" stroke-width="0.6"/><circle cx="680.7" cy="332.2" r="4.9" fill="#b7a0d0" stroke="#6a5585" stroke-width="0.6"/><circle cx="689.0" cy="330.7" r="4.8" fill="#b7a0d0" stroke="#6a5585" stroke-width="0.6"/><circle cx="698.5" cy="332.1" r="4.9" fill="#b7a0d0" stroke="#6a5585" stroke-width="0.6"/><circle cx="706.0" cy="332.1" r="4.7" fill="#b7a0d0" stroke="#6a5585" stroke-width="0.6"/><circle cx="714.7" cy="330.6" r="5.0" fill="#b7a0d0" stroke="#6a5585" stroke-width="0.6"/><circle cx="669.3" cy="337.7" r="4.9" fill="#b7a0d0" stroke="#6a5585" stroke-width="0.6"/><circle cx="677.9" cy="339.1" r="4.8" fill="#b7a0d0" stroke="#6a5585" stroke-width="0.6"/><circle cx="685.8" cy="338.1" r="5.1" fill="#b7a0d0" stroke="#6a5585" stroke-width="0.6"/><circle cx="693.0" cy="339.3" r="5.2" fill="#b7a0d0" stroke="#6a5585" stroke-width="0.6"/><circle cx="701.2" cy="338.3" r="4.6" fill="#b7a0d0" stroke="#6a5585" stroke-width="0.6"/><circle cx="711.3" cy="337.4" r="5.0" fill="#b7a0d0" stroke="#6a5585" stroke-width="0.6"/><circle cx="666.2" cy="346.6" r="4.8" fill="#b7a0d0" stroke="#6a5585" stroke-width="0.6"/><circle cx="673.5" cy="345.5" r="5.3" fill="#b7a0d0" stroke="#6a5585" stroke-width="0.6"/><circle cx="682.4" cy="345.4" r="5.1" fill="#b7a0d0" stroke="#6a5585" stroke-width="0.6"/><circle cx="689.5" cy="345.3" r="4.8" fill="#b7a0d0" stroke="#6a5585" stroke-width="0.6"/><circle cx="697.4" cy="345.2" r="4.8" fill="#b7a0d0" stroke="#6a5585" stroke-width="0.6"/><circle cx="707.6" cy="346.6" r="4.7" fill="#b7a0d0" stroke="#6a5585" stroke-width="0.6"/><circle cx="714.9" cy="345.5" r="5.3" fill="#b7a0d0" stroke="#6a5585" stroke-width="0.6"/><circle cx="669.9" cy="353.3" r="4.8" fill="#b7a0d0" stroke="#6a5585" stroke-width="0.6"/><circle cx="677.4" cy="353.2" r="5.0" fill="#b7a0d0" stroke="#6a5585" stroke-width="0.6"/><circle cx="685.4" cy="352.7" r="4.9" fill="#b7a0d0" stroke="#6a5585" stroke-width="0.6"/><circle cx="694.7" cy="353.2" r="5.1" fill="#b7a0d0" stroke="#6a5585" stroke-width="0.6"/><circle cx="701.8" cy="353.8" r="5.0" fill="#b7a0d0" stroke="#6a5585" stroke-width="0.6"/><circle cx="710.9" cy="352.9" r="5.1" fill="#b7a0d0" stroke="#6a5585" stroke-width="0.6"/><circle cx="717.5" cy="352.8" r="4.7" fill="#b7a0d0" stroke="#6a5585" stroke-width="0.6"/><circle cx="674.5" cy="360.4" r="5.1" fill="#b7a0d0" stroke="#6a5585" stroke-width="0.6"/><circle cx="682.9" cy="361.0" r="4.8" fill="#b7a0d0" stroke="#6a5585" stroke-width="0.6"/><circle cx="690.0" cy="360.0" r="5.0" fill="#b7a0d0" stroke="#6a5585" stroke-width="0.6"/><circle cx="697.4" cy="360.7" r="4.8" fill="#b7a0d0" stroke="#6a5585" stroke-width="0.6"/><circle cx="707.4" cy="359.8" r="4.8" fill="#b7a0d0" stroke="#6a5585" stroke-width="0.6"/><circle cx="670.0" cy="366.0" r="5.0" fill="#b7a0d0" stroke="#6a5585" stroke-width="0.6"/><circle cx="677.6" cy="367.5" r="4.9" fill="#b7a0d0" stroke="#6a5585" stroke-width="0.6"/><circle cx="686.3" cy="367.4" r="4.9" fill="#b7a0d0" stroke="#6a5585" stroke-width="0.6"/><circle cx="693.0" cy="367.0" r="5.1" fill="#b7a0d0" stroke="#6a5585" stroke-width="0.6"/><circle cx="701.6" cy="366.0" r="5.0" fill="#b7a0d0" stroke="#6a5585" stroke-width="0.6"/><circle cx="709.6" cy="366.7" r="4.6" fill="#b7a0d0" stroke="#6a5585" stroke-width="0.6"/><circle cx="689.0" cy="374.4" r="4.8" fill="#b7a0d0" stroke="#6a5585" stroke-width="0.6"/><circle cx="662.5" cy="337.0" r="4.9" fill="#b7a0d0" stroke="#6a5585" stroke-width="0.6"/><circle cx="661.5" cy="346.0" r="5.2" fill="#b7a0d0" stroke="#6a5585" stroke-width="0.6"/><circle cx="664.0" cy="356.0" r="5.2" fill="#b7a0d0" stroke="#6a5585" stroke-width="0.6"/><circle cx="719.0" cy="344.0" r="5.0" fill="#b7a0d0" stroke="#6a5585" stroke-width="0.6"/><circle cx="719.5" cy="352.5" r="4.6" fill="#b7a0d0" stroke="#6a5585" stroke-width="0.6"/><circle cx="716.0" cy="361.0" r="5.1" fill="#b7a0d0" stroke="#6a5585" stroke-width="0.6"/><circle cx="677.0" cy="319.5" r="4.9" fill="#b7a0d0" stroke="#6a5585" stroke-width="0.6"/><circle cx="700.0" cy="319.0" r="5.0" fill="#b7a0d0" stroke="#6a5585" stroke-width="0.6"/><circle cx="709.0" cy="322.5" r="5.1" fill="#b7a0d0" stroke="#6a5585" stroke-width="0.6"/><circle cx="684.0" cy="370.5" r="5.0" fill="#b7a0d0" stroke="#6a5585" stroke-width="0.6"/><circle cx="697.0" cy="371.0" r="4.9" fill="#b7a0d0" stroke="#6a5585" stroke-width="0.6"/><circle cx="683.3" cy="317.9" r="1.8" fill="#5a3d70"/><circle cx="685.1" cy="325.3" r="1.8" fill="#5a3d70"/><circle cx="693.3" cy="324.8" r="1.8" fill="#5a3d70"/><circle cx="710.5" cy="324.4" r="1.8" fill="#5a3d70"/><circle cx="674.6" cy="332.3" r="1.8" fill="#5a3d70"/><circle cx="681.0" cy="332.5" r="1.8" fill="#5a3d70"/><circle cx="689.3" cy="331.0" r="1.8" fill="#5a3d70"/><circle cx="698.8" cy="332.4" r="1.8" fill="#5a3d70"/><circle cx="706.3" cy="332.4" r="1.8" fill="#5a3d70"/><circle cx="715.0" cy="330.9" r="1.8" fill="#5a3d70"/><circle cx="669.6" cy="338.0" r="1.8" fill="#5a3d70"/><circle cx="678.2" cy="339.4" r="1.8" fill="#5a3d70"/><circle cx="686.1" cy="338.4" r="1.8" fill="#5a3d70"/><circle cx="693.3" cy="339.6" r="1.8" fill="#5a3d70"/><circle cx="701.5" cy="338.6" r="1.8" fill="#5a3d70"/><circle cx="711.6" cy="337.7" r="1.8" fill="#5a3d70"/><circle cx="666.5" cy="346.9" r="1.8" fill="#5a3d70"/><circle cx="673.8" cy="345.8" r="1.8" fill="#5a3d70"/><circle cx="682.7" cy="345.7" r="1.8" fill="#5a3d70"/><circle cx="689.8" cy="345.6" r="1.8" fill="#5a3d70"/><circle cx="697.7" cy="345.5" r="1.8" fill="#5a3d70"/><circle cx="707.9" cy="346.9" r="1.8" fill="#5a3d70"/><circle cx="715.2" cy="345.8" r="1.8" fill="#5a3d70"/><circle cx="670.2" cy="353.6" r="1.8" fill="#5a3d70"/><circle cx="677.7" cy="353.5" r="1.8" fill="#5a3d70"/><circle cx="685.7" cy="353.0" r="1.8" fill="#5a3d70"/><circle cx="695.0" cy="353.5" r="1.8" fill="#5a3d70"/><circle cx="702.1" cy="354.1" r="1.8" fill="#5a3d70"/><circle cx="711.2" cy="353.2" r="1.8" fill="#5a3d70"/><circle cx="717.8" cy="353.1" r="1.8" fill="#5a3d70"/><circle cx="674.8" cy="360.7" r="1.8" fill="#5a3d70"/><circle cx="683.2" cy="361.3" r="1.8" fill="#5a3d70"/><circle cx="690.3" cy="360.3" r="1.8" fill="#5a3d70"/><circle cx="697.7" cy="361.0" r="1.8" fill="#5a3d70"/><circle cx="707.7" cy="360.1" r="1.8" fill="#5a3d70"/><circle cx="670.3" cy="366.3" r="1.8" fill="#5a3d70"/><circle cx="677.9" cy="367.8" r="1.8" fill="#5a3d70"/><circle cx="686.6" cy="367.7" r="1.8" fill="#5a3d70"/><circle cx="693.3" cy="367.3" r="1.8" fill="#5a3d70"/><circle cx="701.9" cy="366.3" r="1.8" fill="#5a3d70"/><circle cx="709.9" cy="367.0" r="1.8" fill="#5a3d70"/><circle cx="689.3" cy="374.7" r="1.8" fill="#5a3d70"/><circle cx="662.8" cy="337.3" r="1.8" fill="#5a3d70"/><circle cx="661.8" cy="346.3" r="1.8" fill="#5a3d70"/><circle cx="664.3" cy="356.3" r="1.8" fill="#5a3d70"/><circle cx="719.3" cy="344.3" r="1.8" fill="#5a3d70"/><circle cx="719.8" cy="352.8" r="1.8" fill="#5a3d70"/><circle cx="716.3" cy="361.3" r="1.8" fill="#5a3d70"/><circle cx="677.3" cy="319.8" r="1.8" fill="#5a3d70"/><circle cx="700.3" cy="319.3" r="1.8" fill="#5a3d70"/><circle cx="709.3" cy="322.8" r="1.8" fill="#5a3d70"/><circle cx="684.3" cy="370.8" r="1.8" fill="#5a3d70"/><circle cx="697.3" cy="371.3" r="1.8" fill="#5a3d70"/>
<circle cx="690" cy="345.5" r="26.4" fill="none" stroke="#fff" stroke-width="0.6" opacity="0.8"/>
<circle cx="687" cy="331.5" r="3.3" fill="#d6e8f3" stroke="#78b4da" stroke-width="1"/><circle cx="687" cy="331.5" r="1.2" fill="#4a8cc4"/><circle cx="707.8" cy="335.2" r="3.3" fill="#d6e8f3" stroke="#78b4da" stroke-width="1"/><circle cx="707.8" cy="335.2" r="1.2" fill="#4a8cc4"/><circle cx="688.3" cy="345.3" r="3.3" fill="#d6e8f3" stroke="#78b4da" stroke-width="1"/><circle cx="688.3" cy="345.3" r="1.2" fill="#4a8cc4"/><circle cx="680.8" cy="349.7" r="3.3" fill="#d6e8f3" stroke="#78b4da" stroke-width="1"/><circle cx="680.8" cy="349.7" r="1.2" fill="#4a8cc4"/><circle cx="697.7" cy="359.1" r="3.3" fill="#d6e8f3" stroke="#78b4da" stroke-width="1"/><circle cx="697.7" cy="359.1" r="1.2" fill="#4a8cc4"/><circle cx="690.8" cy="369.2" r="3.3" fill="#d6e8f3" stroke="#78b4da" stroke-width="1"/><circle cx="690.8" cy="369.2" r="1.2" fill="#4a8cc4"/><circle cx="692" cy="324" r="3.3" fill="#d6e8f3" stroke="#78b4da" stroke-width="1"/><circle cx="692" cy="324" r="1.2" fill="#4a8cc4"/><circle cx="700.9" cy="344" r="3.3" fill="#f6a53a"/><circle cx="701.5" cy="344" r="1.3" fill="#fff2c8"/><circle cx="680.8" cy="361.6" r="3.3" fill="#f6a53a"/><circle cx="681.4" cy="361.6" r="1.3" fill="#fff2c8"/><circle cx="667.6" cy="351" r="3.2" fill="#dcc0e6"/><circle cx="667.6" cy="351" r="1.7" fill="#a0206a"/><circle cx="709.6" cy="354.1" r="3.2" fill="#dcc0e6"/><circle cx="709.6" cy="354.1" r="1.7" fill="#a0206a"/><circle cx="671.3" cy="335.2" r="3.2" fill="#dcc0e6"/><circle cx="671.3" cy="335.2" r="1.7" fill="#a0206a"/>
<text x="719.8" y="333.9" font-size="16" font-family="Liberation Sans, sans-serif" font-style="italic" text-anchor="start" fill="#000" stroke="#000" stroke-width="0.25">x</text>
<text x="468" y="427.5" font-size="13.8" font-family="Liberation Sans, sans-serif" text-anchor="middle" fill="#000" textLength="157.5" lengthAdjust="spacingAndGlyphs" >Total number of stem-cell</text>
<text x="468" y="443.3" font-size="13.8" font-family="Liberation Sans, sans-serif" text-anchor="middle" textLength="194" lengthAdjust="spacingAndGlyphs">divisions in tissue <tspan font-style="italic">x</tspan> of person <tspan font-style="italic">s</tspan></text>
<text x="471.7" y="494.7" font-size="13.8" font-family="Liberation Sans, sans-serif" text-anchor="middle" fill="#000" textLength="152.2" lengthAdjust="spacingAndGlyphs" >Intrinsic rate of stem-cell</text>
<text x="471.4" y="509.9" font-size="13.8" font-family="Liberation Sans, sans-serif" text-anchor="middle" textLength="114.7" lengthAdjust="spacingAndGlyphs">division of tissue <tspan font-style="italic">x</tspan></text>
<text x="549.8" y="469.1" font-size="16.7" font-family="Liberation Serif, serif" font-style="italic" stroke="#000" stroke-width="0.28" text-anchor="start" fill="#000" textLength="78.5" lengthAdjust="spacingAndGlyphs" >TNSC(s,x)</text>
<rect x="635.4" y="461.1" width="10.2" height="1.2" fill="#000"/><rect x="635.4" y="465.2" width="10.2" height="1.2" fill="#000"/>
<text x="652.4" y="459.8" font-size="10" font-family="Liberation Serif, serif" stroke="#000" stroke-width="0.28" text-anchor="start" fill="#000" >2</text>
<line x1="651.9" y1="463.9" x2="658.6" y2="463.9" stroke="#000" stroke-width="0.8"/>
<text x="652.2" y="475.7" font-size="10.5" font-family="Liberation Serif, serif" font-style="italic" stroke="#000" stroke-width="0.28" text-anchor="start" fill="#000" >n</text>
<path d="M662.8,448.9 L683.3,448.9 L684,453 M663.4,449.2 L673.8,464.3 L663,479.6 L683.9,479.6 L684.8,475.6" fill="none" stroke="#000" stroke-width="1.5" stroke-linejoin="miter"/>
<path d="M663.2,449 L665.6,449 L675.2,464.3 L673.4,464.6 Z" fill="#000"/>
<text x="669.6" y="444" font-size="10.5" font-family="Liberation Serif, serif" font-style="italic" stroke="#000" stroke-width="0.28" text-anchor="start" fill="#000" >n</text>
<text x="664" y="490.6" font-size="10.5" font-family="Liberation Serif, serif" font-style="italic" stroke="#000" stroke-width="0.28" text-anchor="start" fill="#000" >i</text>
<text x="667.8" y="490.6" font-size="10.5" font-family="Liberation Serif, serif" stroke="#000" stroke-width="0.28" text-anchor="start" fill="#000" textLength="15.5" lengthAdjust="spacingAndGlyphs" >=1</text>
<text x="687.7" y="455.7" font-size="17" font-family="Liberation Serif, serif" font-style="italic" stroke="#000" stroke-width="0.28" text-anchor="start" fill="#000" >β</text>
<text x="696.5" y="458.9" font-size="12.2" font-family="Liberation Serif, serif" font-style="italic" stroke="#000" stroke-width="0.28" text-anchor="start" fill="#000" textLength="27.6" lengthAdjust="spacingAndGlyphs">is(x)</text>
<line x1="730.4" y1="451.3" x2="739.8" y2="451.3" stroke="#000" stroke-width="1.1"/>
<text x="744.8" y="455.7" font-size="17" font-family="Liberation Serif, serif" font-style="italic" stroke="#000" stroke-width="0.28" text-anchor="start" fill="#000" >β</text>
<text x="754.2" y="458.9" font-size="12.2" font-family="Liberation Serif, serif" font-style="italic" stroke="#000" stroke-width="0.28" text-anchor="start" fill="#000" >i0</text>
<line x1="688.2" y1="463.7" x2="766.7" y2="463.7" stroke="#000" stroke-width="1.0"/>
<text x="687.8" y="480.3" font-size="17" font-family="Liberation Serif, serif" font-style="italic" stroke="#000" stroke-width="0.28" text-anchor="start" fill="#000" >δ</text>
<text x="696.8" y="482.8" font-size="12.2" font-family="Liberation Serif, serif" font-style="italic" stroke="#000" stroke-width="0.28" text-anchor="start" fill="#000" >i</text>
<text x="701.8" y="482.2" font-size="19" font-family="Liberation Serif, serif" stroke="#000" stroke-width="0.28" text-anchor="start" fill="#000" >(</text>
<text x="709.8" y="480.3" font-size="16" font-family="Liberation Serif, serif" stroke="#000" stroke-width="0.28" text-anchor="start" fill="#000" >1</text>
<line x1="722.8" y1="474.6" x2="732.9" y2="474.6" stroke="#000" stroke-width="1.1"/>
<text x="737.8" y="480.3" font-size="17" font-family="Liberation Serif, serif" font-style="italic" stroke="#000" stroke-width="0.28" text-anchor="start" fill="#000" >β</text>
<text x="747.2" y="482.8" font-size="12.2" font-family="Liberation Serif, serif" font-style="italic" stroke="#000" stroke-width="0.28" text-anchor="start" fill="#000" >i0</text>
<text x="759.8" y="482.2" font-size="19" font-family="Liberation Serif, serif" stroke="#000" stroke-width="0.28" text-anchor="start" fill="#000" >)</text>
<text x="552.8" y="520.6" font-size="16.5" font-family="Liberation Serif, serif" font-style="italic" stroke="#000" stroke-width="0.28" text-anchor="start" fill="#000" textLength="35.5" lengthAdjust="spacingAndGlyphs" >IR(x)</text>
<rect x="594.7" y="514.2" width="11.3" height="1.2" fill="#000"/><rect x="594.7" y="518.4" width="11.3" height="1.2" fill="#000"/>
<path d="M615.8,508.5 L612.2,516.5 L615.8,524.5" fill="none" stroke="#000" stroke-width="1.1"/>
<text x="616.8" y="520.6" font-size="16.5" font-family="Liberation Serif, serif" font-style="italic" stroke="#000" stroke-width="0.28" text-anchor="start" fill="#000" textLength="124" lengthAdjust="spacingAndGlyphs" >TNSC(s,x)/Age(s)</text>
<path d="M742,508.5 L745.6,516.5 L742,524.5" fill="none" stroke="#000" stroke-width="1.1"/>
<text x="747" y="524.2" font-size="11" font-family="Liberation Serif, serif" font-style="italic" stroke="#000" stroke-width="0.28" text-anchor="start" fill="#000" >s</text>
</svg></body></html>
